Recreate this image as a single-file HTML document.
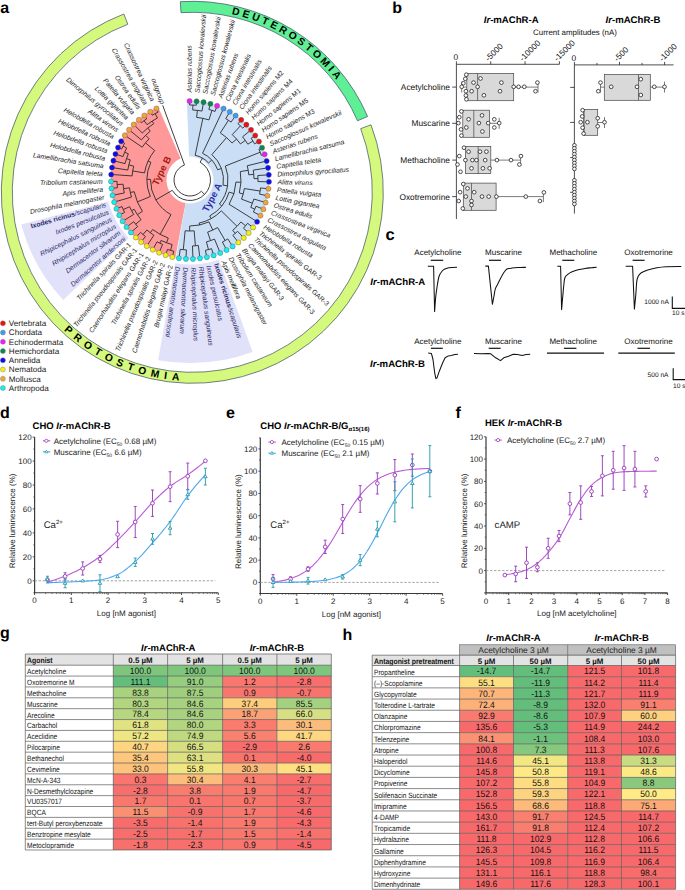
<!DOCTYPE html>
<html><head><meta charset="utf-8"><style>
html,body{margin:0;padding:0;background:#fff;width:685px;height:890px;overflow:hidden}
svg{display:block;font-family:"Liberation Sans",sans-serif;text-rendering:geometricPrecision}
</style></head><body>
<svg width="685" height="890" viewBox="0 0 685 890">
<rect width="685" height="890" fill="#fff"/>
<path d="M370.97 124.79A191 191 0 1 1 123.85 13.99L127.79 24.26A180 180 0 1 0 360.68 128.67Z" fill="#d4f97c" stroke="#3b4b63" stroke-width="0.7"/>
<path d="M180.31 1.68A191 191 0 0 1 367.59 116.44L357.5 120.81A180 180 0 0 0 181 12.66Z" fill="#5ff096" stroke="#3b4b63" stroke-width="0.7"/>
<path id="pp" d="M52.14 318.5A188.6 188.6 0 0 0 198.88 380.79" fill="none"/>
<path id="dp" d="M224.01 12.47A182.6 182.6 0 0 1 340.03 84.97" fill="none"/>
<text font-weight="bold" font-size="10.3" letter-spacing="5.2" fill="#000"><textPath href="#pp" startOffset="16.5">PROTOSTOMIA</textPath></text>
<text font-weight="bold" font-size="10.3" letter-spacing="3.0" fill="#000"><textPath href="#dp" startOffset="7.7">DEUTEROSTOMIA</textPath></text>
<path d="M175.24 258.12A79.5 79.5 0 0 1 158.25 107.12L180.61 158.46A23.5 23.5 0 0 0 185.64 203.09Z" fill="#ff9999"/>
<path d="M186.81 100.56A79.5 79.5 0 1 1 175.74 258.21L185.79 203.12A23.5 23.5 0 1 0 189.06 156.52Z" fill="#cadff6"/>
<path d="M252.65 351.94A183 183 0 0 1 158.13 360.2L175.28 263.21A84.5 84.5 0 0 0 218.93 259.39Z" fill="#e1e1fa"/>
<path d="M63.23 299.92A174.5 174.5 0 0 1 21.26 224.46L108.29 201.53A84.5 84.5 0 0 0 128.61 238.07Z" fill="#e1e1fa"/>
<path d="M189.61 105L189.59 101M196.26 105.26L196.6 101.28M189.61 105A75 75 0 0 1 196.26 105.26M192.74 110.05L192.94 105.06M202.01 111.04L203.56 102.17M192.74 110.05A70 70 0 0 1 202.01 111.04M208.86 109.48L210.41 103.68M215.04 111.43L217.1 105.79M208.86 109.48A73 73 0 0 1 215.04 111.43M196.65 117.35L197.39 110.39M208.96 119.92L211.97 110.38M196.65 117.35A63 63 0 0 1 208.96 119.92M225.76 118.66L229.79 111.75M231.06 122.08L235.68 115.55M225.76 118.66A71 71 0 0 1 231.06 122.08M237.98 123.66L241.22 119.86M242.79 128.14L246.36 124.64M237.98 123.66A74 74 0 0 1 242.79 128.14M251.12 138.29L255.25 135.47M254.58 143.88L258.95 141.44M251.12 138.29A74 74 0 0 1 254.58 143.88M242.55 136.84L251.05 129.86M247.81 144.2L252.92 141.04M242.55 136.84A68 68 0 0 1 247.81 144.2M232.26 134.63L240.43 125.85M240.42 143.92L245.3 140.43M232.26 134.63A62 62 0 0 1 240.42 143.92M220.32 132.92L228.45 120.31M232.07 143.03L236.57 139.07M220.32 132.92A56 56 0 0 1 232.07 143.03M258.9 149.13L262.1 147.7M261.37 155.37L264.68 154.23M258.9 149.13A75.5 75.5 0 0 1 261.37 155.37M257.85 175.53L268.83 174.81M257.98 181.57L268.98 181.82M257.85 175.53A68 68 0 0 1 257.98 181.57M253.24 170.14L268.06 167.83M253.99 178.63L257.98 178.55M253.24 170.14A64 64 0 0 1 253.99 178.63M247.26 165.78L266.67 160.96M248.77 174.81L253.75 174.37M247.26 165.78A59 59 0 0 1 248.77 174.81M260.56 187.93L268.51 188.82M259.57 194.16L267.41 195.75M260.56 187.93A71 71 0 0 1 259.57 194.16M255.98 206.23L263.41 209.18M253.39 211.98L260.53 215.58M255.98 206.23A71 71 0 0 1 253.39 211.98M253.83 199.02L265.71 202.56M250.74 207.33L254.75 209.13M253.83 199.02A66.6 66.6 0 0 1 250.74 207.33M244.33 188.56L260.13 191.05M241.55 199.18L252.42 203.22M244.33 188.56A55 55 0 0 1 241.55 199.18M240.3 171.59L248.19 170.27M239.33 192.93L243.2 193.94M240.3 171.59A51 51 0 0 1 239.33 192.93M235.95 182.08L240.95 182.31M229.07 204.28L257.1 221.7M235.95 182.08A46 46 0 0 1 229.07 204.28M247.54 223.28L253.13 227.49M243.47 228.21L248.67 232.9M247.54 223.28A72 72 0 0 1 243.47 228.21M237.62 231.3L243.75 237.9M232.88 235.33L238.4 242.44M237.62 231.3A70 70 0 0 1 232.88 235.33M240.93 221.98L245.56 225.79M232.71 230.32L235.3 233.37M240.93 221.98A66 66 0 0 1 232.71 230.32M227.81 238.91L232.67 246.49M222.43 242.03L226.6 250.01M227.81 238.91A70 70 0 0 1 222.43 242.03M211.55 248.7L213.65 255.38M205.38 250.34L206.87 257.18M211.55 248.7A72 72 0 0 1 205.38 250.34M214.5 239.12L220.24 252.98M206.43 241.86L208.48 249.59M214.5 239.12A64 64 0 0 1 206.43 241.86M217.62 227.56L225.15 240.53M207.63 232.1L210.51 240.62M217.62 227.56A55 55 0 0 1 207.63 232.1M198.32 245.47L199.96 258.37M192.48 245.95L192.96 258.94M198.32 245.47A66 66 0 0 1 192.48 245.95M186.41 249.91L185.95 258.9M180.22 249.31L178.96 258.23M186.41 249.91A70 70 0 0 1 180.22 249.31M194.17 230.83L195.4 245.78M185.13 230.77L183.31 249.68M194.17 230.83A51 51 0 0 1 185.13 230.77M209.02 221.89L212.74 230.08M189.68 226L189.65 231M209.02 221.89A46 46 0 0 1 189.68 226M221.34 210.89L237.01 226.33M199.16 223.04L199.57 224.99M221.34 210.89A44 44 0 0 1 199.16 223.04M229.16 192.14L233.94 193.62M209.7 215.96L211.14 218.59M229.16 192.14A41 41 0 0 1 209.7 215.96M225.34 166.02L260.21 152.22M219.42 204.05L221.75 205.94M225.34 166.02A38 38 0 0 1 219.42 204.05M211.86 154.62L226.55 137.57M223.1 185.15L227.55 185.84M211.86 154.62A33.5 33.5 0 0 1 223.1 185.15M202.54 153.3L223.57 108.49M217.68 169.81L221.44 168.43M202.54 153.3A29.5 29.5 0 0 1 217.68 169.81M195.15 155.33L202.87 118.33M208.57 162.96L211.74 160.06M195.15 155.33A25.2 25.2 0 0 1 208.57 162.96M173.7 251.16L172.36 257.01M167.48 249.44L165.63 255.15M173.7 251.16A73 73 0 0 1 167.48 249.44M162.6 244.42L159.08 252.7M157.02 241.74L152.78 249.68M162.6 244.42A70 70 0 0 1 157.02 241.74M172.17 244.58L170.57 250.37M161.08 240.44L159.78 243.14M172.17 244.58A67 67 0 0 1 161.08 240.44M145.43 236.54L141.09 242.04M140.6 232.38L135.8 237.48M145.43 236.54A72 72 0 0 1 140.6 232.38M153.88 235.24L146.77 246.12M146.89 229.97L142.97 234.52M153.88 235.24A66 66 0 0 1 146.89 229.97M168.28 238.07L166.53 242.75M152.7 229.53L150.3 232.72M168.28 238.07A62 62 0 0 1 152.7 229.53M137.66 226.48L130.93 232.46M133.76 221.68L126.53 227.04M137.66 226.48A70 70 0 0 1 133.76 221.68M124.61 212.46L119.24 215.13M122 206.55L116.41 208.74M124.61 212.46A73 73 0 0 1 122 206.55M133.71 214.46L122.62 221.24M129.64 206.7L123.24 209.53M133.71 214.46A66 66 0 0 1 129.64 206.7M141.09 219.71L135.66 224.12M134.2 209.25L131.55 210.65M141.09 219.71A63 63 0 0 1 134.2 209.25M117.42 187.78L111.45 188.42M117.01 181.34L111.01 181.45M117.42 187.78A73 73 0 0 1 117.01 181.34M124.27 193L112.5 195.33M123.13 184.19L117.14 184.56M124.27 193A67 67 0 0 1 123.13 184.19M131.44 197.08L114.16 202.12M129.51 187.84L123.56 188.61M131.44 197.08A61 61 0 0 1 129.51 187.84M142.4 211.35L137.39 214.65M134.21 191.68L130.29 192.5M142.4 211.35A57 57 0 0 1 134.21 191.68M121.64 149.14L118 147.49M124.64 143.22L121.15 141.25M121.64 149.14A75 75 0 0 1 124.64 143.22M122.96 156.62L115.41 153.98M126.65 147.95L123.08 146.14M122.96 156.62A71 71 0 0 1 126.65 147.95M125.04 163.61L113.4 160.67M128.34 153.79L124.66 152.22M125.04 163.61A67 67 0 0 1 128.34 153.79M127.79 170.05L111.99 167.52M130.29 159.91L126.5 158.63M127.79 170.05A63 63 0 0 1 130.29 159.91M132.14 175.93L111.19 174.46M133.68 166.12L128.83 164.93M132.14 175.93A58 58 0 0 1 133.68 166.12M141.44 122.84L138.85 119.79M146.68 118.77L144.37 115.51M141.44 122.84A75 75 0 0 1 146.68 118.77M152.26 115.19L150.25 111.73M158.14 112.1L156.44 108.48M152.26 115.19A75 75 0 0 1 158.14 112.1M147.08 124.7L144.02 120.75M157.49 118.01L155.17 113.58M147.08 124.7A70 70 0 0 1 157.49 118.01M142.28 132.97L133.73 124.55M153.76 123.65L152.14 121.12M142.28 132.97A67 67 0 0 1 153.76 123.65M141.39 139.92L129.05 129.74M150.28 131.1L147.76 127.99M141.39 139.92A63 63 0 0 1 150.28 131.1M142.17 147.2L124.85 135.32M149.14 138.84L145.62 135.29M142.17 147.2A58 58 0 0 1 149.14 138.84M144.56 172.86L132.7 171M154.67 150.54L145.46 142.85M144.56 172.86A46 46 0 0 1 154.67 150.54M150.3 196.52L137.38 201.9M150.83 162.25L148.1 161.01M150.3 196.52A43 43 0 0 1 150.83 162.25M171 214.63L160.18 234.36M150.5 179.39L147.01 179.33M171 214.63A39.5 39.5 0 0 1 150.5 179.39M184.51 164.97L162.72 105.33M201.37 191.26A16 16 0 1 1 184.51 164.97M201.37 191.26L204.57 194.43M200.13 162.18A20.5 20.5 0 1 1 172.28 190.31M200.13 162.18L202.46 158.09M172.28 190.31L155.86 199.86" fill="none" stroke="#2a2a2a" stroke-width="0.9"/>
<circle cx="189.59" cy="101" r="2.55" fill="#f01ef0" stroke="#555" stroke-width="0.4"/>
<circle cx="196.6" cy="101.28" r="2.55" fill="#0a8a4a" stroke="#555" stroke-width="0.4"/>
<circle cx="203.56" cy="102.17" r="2.55" fill="#0a8a4a" stroke="#555" stroke-width="0.4"/>
<circle cx="210.41" cy="103.68" r="2.55" fill="#0a8a4a" stroke="#555" stroke-width="0.4"/>
<circle cx="217.1" cy="105.79" r="2.55" fill="#f01ef0" stroke="#555" stroke-width="0.4"/>
<circle cx="223.57" cy="108.49" r="2.55" fill="#3d9ef0" stroke="#555" stroke-width="0.4"/>
<circle cx="229.79" cy="111.75" r="2.55" fill="#3d9ef0" stroke="#555" stroke-width="0.4"/>
<circle cx="235.68" cy="115.55" r="2.55" fill="#3d9ef0" stroke="#555" stroke-width="0.4"/>
<circle cx="241.22" cy="119.86" r="2.55" fill="#ee1111" stroke="#555" stroke-width="0.4"/>
<circle cx="246.36" cy="124.64" r="2.55" fill="#ee1111" stroke="#555" stroke-width="0.4"/>
<circle cx="251.05" cy="129.86" r="2.55" fill="#ee1111" stroke="#555" stroke-width="0.4"/>
<circle cx="255.25" cy="135.47" r="2.55" fill="#ee1111" stroke="#555" stroke-width="0.4"/>
<circle cx="258.95" cy="141.44" r="2.55" fill="#ee1111" stroke="#555" stroke-width="0.4"/>
<circle cx="262.1" cy="147.7" r="2.55" fill="#0a8a4a" stroke="#555" stroke-width="0.4"/>
<circle cx="264.68" cy="154.23" r="2.55" fill="#f01ef0" stroke="#555" stroke-width="0.4"/>
<circle cx="266.67" cy="160.96" r="2.55" fill="#0c0cf0" stroke="#555" stroke-width="0.4"/>
<circle cx="268.06" cy="167.83" r="2.55" fill="#0c0cf0" stroke="#555" stroke-width="0.4"/>
<circle cx="268.83" cy="174.81" r="2.55" fill="#0c0cf0" stroke="#555" stroke-width="0.4"/>
<circle cx="268.98" cy="181.82" r="2.55" fill="#0c0cf0" stroke="#555" stroke-width="0.4"/>
<circle cx="268.51" cy="188.82" r="2.55" fill="#f4a43c" stroke="#555" stroke-width="0.4"/>
<circle cx="267.41" cy="195.75" r="2.55" fill="#f4a43c" stroke="#555" stroke-width="0.4"/>
<circle cx="265.71" cy="202.56" r="2.55" fill="#f4a43c" stroke="#555" stroke-width="0.4"/>
<circle cx="263.41" cy="209.18" r="2.55" fill="#f4a43c" stroke="#555" stroke-width="0.4"/>
<circle cx="260.53" cy="215.58" r="2.55" fill="#f4a43c" stroke="#555" stroke-width="0.4"/>
<circle cx="257.1" cy="221.7" r="2.55" fill="#0c0cf0" stroke="#555" stroke-width="0.4"/>
<circle cx="253.13" cy="227.49" r="2.55" fill="#f4f010" stroke="#555" stroke-width="0.4"/>
<circle cx="248.67" cy="232.9" r="2.55" fill="#f4f010" stroke="#555" stroke-width="0.4"/>
<circle cx="243.75" cy="237.9" r="2.55" fill="#f4f010" stroke="#555" stroke-width="0.4"/>
<circle cx="238.4" cy="242.44" r="2.55" fill="#f4f010" stroke="#555" stroke-width="0.4"/>
<circle cx="232.67" cy="246.49" r="2.55" fill="#16eef0" stroke="#555" stroke-width="0.4"/>
<circle cx="226.6" cy="250.01" r="2.55" fill="#16eef0" stroke="#555" stroke-width="0.4"/>
<circle cx="220.24" cy="252.98" r="2.55" fill="#16eef0" stroke="#555" stroke-width="0.4"/>
<circle cx="213.65" cy="255.38" r="2.55" fill="#16eef0" stroke="#555" stroke-width="0.4"/>
<circle cx="206.87" cy="257.18" r="2.55" fill="#16eef0" stroke="#555" stroke-width="0.4"/>
<circle cx="199.96" cy="258.37" r="2.55" fill="#16eef0" stroke="#555" stroke-width="0.4"/>
<circle cx="192.96" cy="258.94" r="2.55" fill="#16eef0" stroke="#555" stroke-width="0.4"/>
<circle cx="185.95" cy="258.9" r="2.55" fill="#16eef0" stroke="#555" stroke-width="0.4"/>
<circle cx="178.96" cy="258.23" r="2.55" fill="#16eef0" stroke="#555" stroke-width="0.4"/>
<circle cx="172.36" cy="257.01" r="2.55" fill="#f4f010" stroke="#555" stroke-width="0.4"/>
<circle cx="165.63" cy="255.15" r="2.55" fill="#f4f010" stroke="#555" stroke-width="0.4"/>
<circle cx="159.08" cy="252.7" r="2.55" fill="#f4f010" stroke="#555" stroke-width="0.4"/>
<circle cx="152.78" cy="249.68" r="2.55" fill="#f4f010" stroke="#555" stroke-width="0.4"/>
<circle cx="146.77" cy="246.12" r="2.55" fill="#f4f010" stroke="#555" stroke-width="0.4"/>
<circle cx="141.09" cy="242.04" r="2.55" fill="#f4f010" stroke="#555" stroke-width="0.4"/>
<circle cx="135.8" cy="237.48" r="2.55" fill="#f4f010" stroke="#555" stroke-width="0.4"/>
<circle cx="130.93" cy="232.46" r="2.55" fill="#16eef0" stroke="#555" stroke-width="0.4"/>
<circle cx="126.53" cy="227.04" r="2.55" fill="#16eef0" stroke="#555" stroke-width="0.4"/>
<circle cx="122.62" cy="221.24" r="2.55" fill="#16eef0" stroke="#555" stroke-width="0.4"/>
<circle cx="119.24" cy="215.13" r="2.55" fill="#16eef0" stroke="#555" stroke-width="0.4"/>
<circle cx="116.41" cy="208.74" r="2.55" fill="#16eef0" stroke="#555" stroke-width="0.4"/>
<circle cx="114.16" cy="202.12" r="2.55" fill="#16eef0" stroke="#555" stroke-width="0.4"/>
<circle cx="112.5" cy="195.33" r="2.55" fill="#16eef0" stroke="#555" stroke-width="0.4"/>
<circle cx="111.45" cy="188.42" r="2.55" fill="#16eef0" stroke="#555" stroke-width="0.4"/>
<circle cx="111.01" cy="181.45" r="2.55" fill="#16eef0" stroke="#555" stroke-width="0.4"/>
<circle cx="111.19" cy="174.46" r="2.55" fill="#0c0cf0" stroke="#555" stroke-width="0.4"/>
<circle cx="111.99" cy="167.52" r="2.55" fill="#0c0cf0" stroke="#555" stroke-width="0.4"/>
<circle cx="113.4" cy="160.67" r="2.55" fill="#0c0cf0" stroke="#555" stroke-width="0.4"/>
<circle cx="115.41" cy="153.98" r="2.55" fill="#0c0cf0" stroke="#555" stroke-width="0.4"/>
<circle cx="118" cy="147.49" r="2.55" fill="#0c0cf0" stroke="#555" stroke-width="0.4"/>
<circle cx="121.15" cy="141.25" r="2.55" fill="#0c0cf0" stroke="#555" stroke-width="0.4"/>
<circle cx="124.85" cy="135.32" r="2.55" fill="#f4a43c" stroke="#555" stroke-width="0.4"/>
<circle cx="129.05" cy="129.74" r="2.55" fill="#f4a43c" stroke="#555" stroke-width="0.4"/>
<circle cx="133.73" cy="124.55" r="2.55" fill="#f4a43c" stroke="#555" stroke-width="0.4"/>
<circle cx="138.85" cy="119.79" r="2.55" fill="#f4a43c" stroke="#555" stroke-width="0.4"/>
<circle cx="144.37" cy="115.51" r="2.55" fill="#f4a43c" stroke="#555" stroke-width="0.4"/>
<circle cx="150.25" cy="111.73" r="2.55" fill="#f4a43c" stroke="#555" stroke-width="0.4"/>
<circle cx="156.44" cy="108.48" r="2.55" fill="#f4a43c" stroke="#555" stroke-width="0.4"/>
<g font-size="6.8" font-style="italic">
<text transform="translate(189.54 92.5) rotate(-90.3)" text-anchor="start" dy="2.3" fill="#1c1c1c">Asterias rubens</text>
<text transform="translate(197.31 92.81) rotate(-85.21)" text-anchor="start" dy="2.3" fill="#1c1c1c">Saccoglossus kowalevskii</text>
<text transform="translate(205.01 93.8) rotate(-80.12)" text-anchor="start" dy="2.3" fill="#1c1c1c">Saccoglossus kowalevskii</text>
<text transform="translate(212.6 95.47) rotate(-75.03)" text-anchor="start" dy="2.3" fill="#1c1c1c">Saccoglossus kowalevskii</text>
<text transform="translate(220.01 97.81) rotate(-69.94)" text-anchor="start" dy="2.3" fill="#1c1c1c">Asterias rubens</text>
<text transform="translate(227.19 100.8) rotate(-64.85)" text-anchor="start" dy="2.3" fill="#1c1c1c">Ciona intestinalis</text>
<text transform="translate(234.07 104.41) rotate(-59.76)" text-anchor="start" dy="2.3" fill="#1c1c1c">Ciona intestinalis</text>
<text transform="translate(240.6 108.61) rotate(-54.67)" text-anchor="start" dy="2.3" fill="#1c1c1c">Ciona intestinalis</text>
<text transform="translate(246.73 113.39) rotate(-49.58)" text-anchor="start" dy="2.3" fill="#1c1c1c">Homo sapiens <tspan font-style="normal">M2</tspan></text>
<text transform="translate(252.42 118.68) rotate(-44.49)" text-anchor="start" dy="2.3" fill="#1c1c1c">Homo sapiens <tspan font-style="normal">M4</tspan></text>
<text transform="translate(257.61 124.46) rotate(-39.4)" text-anchor="start" dy="2.3" fill="#1c1c1c">Homo sapiens <tspan font-style="normal">M1</tspan></text>
<text transform="translate(262.27 130.68) rotate(-34.31)" text-anchor="start" dy="2.3" fill="#1c1c1c">Homo sapiens <tspan font-style="normal">M5</tspan></text>
<text transform="translate(266.37 137.29) rotate(-29.22)" text-anchor="start" dy="2.3" fill="#1c1c1c">Homo sapiens <tspan font-style="normal">M3</tspan></text>
<text transform="translate(269.85 144.23) rotate(-24.13)" text-anchor="start" dy="2.3" fill="#1c1c1c">Saccoglossus kowalevskii</text>
<text transform="translate(272.71 151.46) rotate(-19.04)" text-anchor="start" dy="2.3" fill="#1c1c1c">Asterias rubens</text>
<text transform="translate(274.92 158.91) rotate(-13.95)" text-anchor="start" dy="2.3" fill="#1c1c1c">Lamellibrachia satsuma</text>
<text transform="translate(276.46 166.52) rotate(-8.86)" text-anchor="start" dy="2.3" fill="#1c1c1c">Capitella teleta</text>
<text transform="translate(277.31 174.25) rotate(-3.77)" text-anchor="start" dy="2.3" fill="#1c1c1c">Dimorphilus gyrociliatus</text>
<text transform="translate(277.48 182.02) rotate(1.32)" text-anchor="start" dy="2.3" fill="#1c1c1c">Alitta virens</text>
<text transform="translate(276.95 189.77) rotate(6.41)" text-anchor="start" dy="2.3" fill="#1c1c1c">Patella vulgata</text>
<text transform="translate(275.74 197.44) rotate(11.5)" text-anchor="start" dy="2.3" fill="#1c1c1c">Lottia gigantea</text>
<text transform="translate(273.86 204.98) rotate(16.59)" text-anchor="start" dy="2.3" fill="#1c1c1c">Ostrea edulis</text>
<text transform="translate(271.31 212.32) rotate(21.68)" text-anchor="start" dy="2.3" fill="#1c1c1c">Crassostrea virginica</text>
<text transform="translate(268.12 219.41) rotate(26.77)" text-anchor="start" dy="2.3" fill="#1c1c1c">Crassostrea angulata</text>
<text transform="translate(264.32 226.19) rotate(31.86)" text-anchor="start" dy="2.3" fill="#1c1c1c">Helobdella robusta</text>
<text transform="translate(259.93 232.6) rotate(36.95)" text-anchor="start" dy="2.3" fill="#1c1c1c">Trichinella spiralis <tspan font-style="normal">GAR-3</tspan></text>
<text transform="translate(254.98 238.59) rotate(42.04)" text-anchor="start" dy="2.3" fill="#1c1c1c">Trichinella pseudospiralis <tspan font-style="normal">GAR-3</tspan></text>
<text transform="translate(249.53 244.13) rotate(47.13)" text-anchor="start" dy="2.3" fill="#1c1c1c">Caenorhabditis elegans <tspan font-style="normal">GAR-3</tspan></text>
<text transform="translate(243.61 249.16) rotate(52.22)" text-anchor="start" dy="2.3" fill="#1c1c1c">Brugia malayi <tspan font-style="normal">GAR-3</tspan></text>
<text transform="translate(237.26 253.64) rotate(57.31)" text-anchor="start" dy="2.3" fill="#1c1c1c">Tribolium castaneum</text>
<text transform="translate(230.54 257.54) rotate(62.4)" text-anchor="start" dy="2.3" fill="#1c1c1c">Drosophila melanogaster</text>
<text transform="translate(223.5 260.83) rotate(67.49)" text-anchor="start" dy="2.3" fill="#1c1c1c">Apis mellifera</text>
<text transform="translate(216.2 263.49) rotate(72.58)" text-anchor="start" dy="2.3" fill="#2a2a64"><tspan font-weight="bold" font-style="normal">Ixodes ricinus</tspan>/scapularis</text>
<text transform="translate(208.68 265.48) rotate(77.67)" text-anchor="start" dy="2.3" fill="#2a2a64">Ixodes persulcatus</text>
<text transform="translate(201.03 266.8) rotate(82.76)" text-anchor="start" dy="2.3" fill="#2a2a64">Rhipicephalus sanguineus</text>
<text transform="translate(193.28 267.44) rotate(87.85)" text-anchor="start" dy="2.3" fill="#2a2a64">Rhipicephalus microplus</text>
<text transform="translate(185.51 267.38) rotate(92.94)" text-anchor="start" dy="2.3" fill="#2a2a64">Dermacentor silvarum</text>
<text transform="translate(177.78 266.64) rotate(98.03)" text-anchor="start" dy="2.3" fill="#2a2a64">Dermacentor andersoni</text>
<text transform="translate(170.47 265.29) rotate(-77.1)" text-anchor="end" dy="2.3" fill="#1c1c1c">Brugia malayi <tspan font-style="normal">GAR-2</tspan></text>
<text transform="translate(163 263.23) rotate(-72.03)" text-anchor="end" dy="2.3" fill="#1c1c1c">Caenorhabditis elegans <tspan font-style="normal">GAR-2</tspan></text>
<text transform="translate(155.75 260.52) rotate(-66.96)" text-anchor="end" dy="2.3" fill="#1c1c1c">Trichinella pseudospiralis <tspan font-style="normal">GAR-2</tspan></text>
<text transform="translate(148.77 257.18) rotate(-61.89)" text-anchor="end" dy="2.3" fill="#1c1c1c">Trichinella spiralis <tspan font-style="normal">GAR-2</tspan></text>
<text transform="translate(142.11 253.23) rotate(-56.82)" text-anchor="end" dy="2.3" fill="#1c1c1c">Caenorhabditis elegans <tspan font-style="normal">GAR-1</tspan></text>
<text transform="translate(135.83 248.72) rotate(-51.75)" text-anchor="end" dy="2.3" fill="#1c1c1c">Trichinella pseudospiralis <tspan font-style="normal">GAR-1</tspan></text>
<text transform="translate(129.97 243.66) rotate(-46.68)" text-anchor="end" dy="2.3" fill="#1c1c1c">Trichinella spiralis <tspan font-style="normal">GAR-1</tspan></text>
<text transform="translate(124.58 238.1) rotate(-41.61)" text-anchor="end" dy="2.3" fill="#2a2a64">Dermacentor andersoni</text>
<text transform="translate(119.7 232.1) rotate(-36.54)" text-anchor="end" dy="2.3" fill="#2a2a64">Dermacentor silvarum</text>
<text transform="translate(115.37 225.68) rotate(-31.47)" text-anchor="end" dy="2.3" fill="#2a2a64">Rhipicephalus microplus</text>
<text transform="translate(111.63 218.91) rotate(-26.4)" text-anchor="end" dy="2.3" fill="#2a2a64">Rhipicephalus sanguineus</text>
<text transform="translate(108.49 211.83) rotate(-21.33)" text-anchor="end" dy="2.3" fill="#2a2a64">Ixodes persulcatus</text>
<text transform="translate(106 204.5) rotate(-16.26)" text-anchor="end" dy="2.3" fill="#2a2a64"><tspan font-weight="bold" font-style="normal">Ixodes ricinus</tspan>/scapularis</text>
<text transform="translate(104.16 196.98) rotate(-11.19)" text-anchor="end" dy="2.3" fill="#1c1c1c">Drosophila melanogaster</text>
<text transform="translate(103 189.33) rotate(-6.12)" text-anchor="end" dy="2.3" fill="#1c1c1c">Apis mellifera</text>
<text transform="translate(102.51 181.6) rotate(-1.05)" text-anchor="end" dy="2.3" fill="#1c1c1c">Tribolium castaneum</text>
<text transform="translate(102.72 173.87) rotate(4.02)" text-anchor="end" dy="2.3" fill="#1c1c1c">Capitella teleta</text>
<text transform="translate(103.6 166.18) rotate(9.09)" text-anchor="end" dy="2.3" fill="#1c1c1c">Lamellibrachia satsuma</text>
<text transform="translate(105.16 158.59) rotate(14.16)" text-anchor="end" dy="2.3" fill="#1c1c1c">Helobdella robusta</text>
<text transform="translate(107.38 151.18) rotate(19.23)" text-anchor="end" dy="2.3" fill="#1c1c1c">Helobdella robusta</text>
<text transform="translate(110.25 143.99) rotate(24.3)" text-anchor="end" dy="2.3" fill="#1c1c1c">Helobdella robusta</text>
<text transform="translate(113.75 137.09) rotate(29.37)" text-anchor="end" dy="2.3" fill="#1c1c1c">Helobdella robusta</text>
<text transform="translate(117.84 130.51) rotate(34.44)" text-anchor="end" dy="2.3" fill="#1c1c1c">Alitta virens</text>
<text transform="translate(122.49 124.33) rotate(39.51)" text-anchor="end" dy="2.3" fill="#1c1c1c">Dimorphilus gyrociliatus</text>
<text transform="translate(127.68 118.58) rotate(44.58)" text-anchor="end" dy="2.3" fill="#1c1c1c">Lottia gigantea</text>
<text transform="translate(133.35 113.32) rotate(49.65)" text-anchor="end" dy="2.3" fill="#1c1c1c">Patella vulgata</text>
<text transform="translate(139.46 108.57) rotate(54.72)" text-anchor="end" dy="2.3" fill="#1c1c1c">Ostrea edulis</text>
<text transform="translate(145.97 104.38) rotate(59.79)" text-anchor="end" dy="2.3" fill="#1c1c1c">Crassostrea angulata</text>
<text transform="translate(152.83 100.79) rotate(64.86)" text-anchor="end" dy="2.3" fill="#1c1c1c">Crassostrea virginica</text>
<text transform="translate(162.6 103.77) rotate(70.23)" text-anchor="end" dy="2.3" fill="#262626">outgroup</text>
</g>
<text transform="translate(212 197.5) rotate(-62)" text-anchor="middle" dy="3.4" font-size="9.6" font-weight="bold" fill="#2e2eaa">Type A</text>
<text transform="translate(161.5 170.8) rotate(-64)" text-anchor="middle" dy="3.4" font-size="9.6" font-weight="bold" fill="#a51a10">Type B</text>
<circle cx="2.9" cy="323.3" r="2.5" fill="#ee1111" stroke="#777" stroke-width="0.4"/>
<text x="8.8" y="326.2" font-size="8.1" fill="#222">Vertebrata</text>
<circle cx="2.9" cy="332.55" r="2.5" fill="#3d9ef0" stroke="#777" stroke-width="0.4"/>
<text x="8.8" y="335.45" font-size="8.1" fill="#222">Chordata</text>
<circle cx="2.9" cy="341.8" r="2.5" fill="#f01ef0" stroke="#777" stroke-width="0.4"/>
<text x="8.8" y="344.7" font-size="8.1" fill="#222">Echinodermata</text>
<circle cx="2.9" cy="351.05" r="2.5" fill="#0a8a4a" stroke="#777" stroke-width="0.4"/>
<text x="8.8" y="353.95" font-size="8.1" fill="#222">Hemichordata</text>
<circle cx="2.9" cy="360.3" r="2.5" fill="#0c0cf0" stroke="#777" stroke-width="0.4"/>
<text x="8.8" y="363.2" font-size="8.1" fill="#222">Annelida</text>
<circle cx="2.9" cy="369.55" r="2.5" fill="#f4f010" stroke="#777" stroke-width="0.4"/>
<text x="8.8" y="372.45" font-size="8.1" fill="#222">Nematoda</text>
<circle cx="2.9" cy="378.8" r="2.5" fill="#f4a43c" stroke="#777" stroke-width="0.4"/>
<text x="8.8" y="381.7" font-size="8.1" fill="#222">Mollusca</text>
<circle cx="2.9" cy="388.05" r="2.5" fill="#16eef0" stroke="#777" stroke-width="0.4"/>
<text x="8.8" y="390.95" font-size="8.1" fill="#222">Arthropoda</text>
<text x="0.2" y="12.8" font-size="16" font-weight="bold">a</text>
<text x="392.3" y="13" font-size="16" font-weight="bold">b</text>
<text x="511.2" y="23" font-size="9.6" font-weight="bold" text-anchor="middle"><tspan font-style="italic">Ir</tspan>-mAChR-A</text>
<text x="633" y="23" font-size="9.6" font-weight="bold" text-anchor="middle"><tspan font-style="italic">Ir</tspan>-mAChR-B</text>
<text x="575" y="35.3" font-size="7.9" text-anchor="middle" fill="#111">Current amplitudes (nA)</text>
<path d="M456.4 64.3V219M456.4 64.3H559.4" stroke="#222" stroke-width="0.8" fill="none"/>
<path d="M456.4 64.3v-3" stroke="#222" stroke-width="0.8"/>
<path d="M490.73 64.3v-3" stroke="#222" stroke-width="0.8"/>
<path d="M525.06 64.3v-3" stroke="#222" stroke-width="0.8"/>
<path d="M559.39 64.3v-3" stroke="#222" stroke-width="0.8"/>
<text x="455.8" y="59.6" font-size="8.3" text-anchor="middle" fill="#111">0</text>
<text transform="translate(488.53 61.7) rotate(-45)" font-size="8.3" fill="#111">-5000</text>
<text transform="translate(522.86 61.7) rotate(-45)" font-size="8.3" fill="#111">-10000</text>
<text transform="translate(557.19 61.7) rotate(-45)" font-size="8.3" fill="#111">-15000</text>
<path d="M456.4 87.1h-4.2" stroke="#222" stroke-width="0.8"/>
<text x="450" y="90.1" font-size="8.35" text-anchor="end" fill="#111">Acetylcholine</text>
<path d="M456.4 123.3h-4.2" stroke="#222" stroke-width="0.8"/>
<text x="450" y="126.3" font-size="8.35" text-anchor="end" fill="#111">Muscarine</text>
<path d="M456.4 160.1h-4.2" stroke="#222" stroke-width="0.8"/>
<text x="450" y="163.1" font-size="8.35" text-anchor="end" fill="#111">Methacholine</text>
<path d="M456.4 196.6h-4.2" stroke="#222" stroke-width="0.8"/>
<text x="450" y="199.6" font-size="8.35" text-anchor="end" fill="#111">Oxotremorine</text>
<path d="M574.4 64.9V213.6M574.4 64.9H673.6" stroke="#222" stroke-width="0.8" fill="none"/>
<path d="M574.4 64.9v-3" stroke="#222" stroke-width="0.8"/>
<path d="M596.95 64.9v-2" stroke="#222" stroke-width="0.8"/>
<path d="M619.5 64.9v-3" stroke="#222" stroke-width="0.8"/>
<path d="M642.05 64.9v-2" stroke="#222" stroke-width="0.8"/>
<path d="M664.6 64.9v-3" stroke="#222" stroke-width="0.8"/>
<text x="573.8" y="61" font-size="8.3" text-anchor="middle" fill="#111">0</text>
<text transform="translate(617.3 62) rotate(-45)" font-size="8.3" fill="#111">-500</text>
<text transform="translate(662.4 62) rotate(-45)" font-size="8.3" fill="#111">-1000</text>
<path d="M574.4 87.4h-4.2" stroke="#222" stroke-width="0.8"/>
<path d="M574.4 122.4h-4.2" stroke="#222" stroke-width="0.8"/>
<path d="M574.4 157.6h-4.2" stroke="#222" stroke-width="0.8"/>
<path d="M574.4 192.3h-4.2" stroke="#222" stroke-width="0.8"/>
<path d="M466.8 87.1H461.7M461.7 81.6v11" stroke="#444" stroke-width="0.7" fill="none"/><path d="M513.7 87.1H538M538 81.6v11" stroke="#444" stroke-width="0.7" fill="none"/><rect x="466.8" y="73.5" width="46.9" height="27.2" fill="#d9d9d9" stroke="#444" stroke-width="0.7"/><path d="M477.6 73.5V100.7" stroke="#444" stroke-width="0.7"/>
<circle cx="466.3" cy="74.7" r="1.85" fill="#fff" stroke="#222" stroke-width="0.8"/><circle cx="465.3" cy="78.8" r="1.85" fill="#fff" stroke="#222" stroke-width="0.8"/><circle cx="463.4" cy="83.2" r="1.85" fill="#fff" stroke="#222" stroke-width="0.8"/><circle cx="461.7" cy="86.8" r="1.85" fill="#fff" stroke="#222" stroke-width="0.8"/><circle cx="465.9" cy="91.2" r="1.85" fill="#fff" stroke="#222" stroke-width="0.8"/><circle cx="465.9" cy="95.5" r="1.85" fill="#fff" stroke="#222" stroke-width="0.8"/><circle cx="466.4" cy="99.3" r="1.85" fill="#fff" stroke="#222" stroke-width="0.8"/><circle cx="473.5" cy="82.6" r="1.85" fill="#fff" stroke="#222" stroke-width="0.8"/><circle cx="471.6" cy="91.2" r="1.85" fill="#fff" stroke="#222" stroke-width="0.8"/><circle cx="477.6" cy="86.8" r="1.85" fill="#fff" stroke="#222" stroke-width="0.8"/><circle cx="480.5" cy="78.5" r="1.85" fill="#fff" stroke="#222" stroke-width="0.8"/><circle cx="483.9" cy="95.3" r="1.85" fill="#fff" stroke="#222" stroke-width="0.8"/><circle cx="501.4" cy="82.6" r="1.85" fill="#fff" stroke="#222" stroke-width="0.8"/><circle cx="500" cy="91.2" r="1.85" fill="#fff" stroke="#222" stroke-width="0.8"/><circle cx="513.7" cy="86.8" r="1.85" fill="#fff" stroke="#222" stroke-width="0.8"/><circle cx="518.6" cy="86.8" r="1.85" fill="#fff" stroke="#222" stroke-width="0.8"/><circle cx="524.3" cy="86.8" r="1.85" fill="#fff" stroke="#222" stroke-width="0.8"/><circle cx="537.4" cy="82.6" r="1.85" fill="#fff" stroke="#222" stroke-width="0.8"/><circle cx="535.5" cy="91.2" r="1.85" fill="#fff" stroke="#222" stroke-width="0.8"/>
<path d="M489.6 123.3H499.2M499.2 117.8v11" stroke="#444" stroke-width="0.7" fill="none"/><rect x="462.8" y="110.2" width="26.8" height="27.1" fill="#d9d9d9" stroke="#444" stroke-width="0.7"/><path d="M473.8 110.2V137.3" stroke="#444" stroke-width="0.7"/>
<circle cx="461.4" cy="111.4" r="1.85" fill="#fff" stroke="#222" stroke-width="0.8"/><circle cx="459.3" cy="117.2" r="1.85" fill="#fff" stroke="#222" stroke-width="0.8"/><circle cx="458.4" cy="123.1" r="1.85" fill="#fff" stroke="#222" stroke-width="0.8"/><circle cx="461" cy="129.4" r="1.85" fill="#fff" stroke="#222" stroke-width="0.8"/><circle cx="461.4" cy="135.6" r="1.85" fill="#fff" stroke="#222" stroke-width="0.8"/><circle cx="468.6" cy="119.3" r="1.85" fill="#fff" stroke="#222" stroke-width="0.8"/><circle cx="466.3" cy="127.5" r="1.85" fill="#fff" stroke="#222" stroke-width="0.8"/><circle cx="482" cy="115.4" r="1.85" fill="#fff" stroke="#222" stroke-width="0.8"/><circle cx="478.9" cy="123.1" r="1.85" fill="#fff" stroke="#222" stroke-width="0.8"/><circle cx="482.4" cy="131.5" r="1.85" fill="#fff" stroke="#222" stroke-width="0.8"/><circle cx="488.2" cy="123.1" r="1.85" fill="#fff" stroke="#222" stroke-width="0.8"/><circle cx="494.3" cy="119.3" r="1.85" fill="#fff" stroke="#222" stroke-width="0.8"/><circle cx="494.3" cy="127.5" r="1.85" fill="#fff" stroke="#222" stroke-width="0.8"/><circle cx="499.2" cy="123.1" r="1.85" fill="#fff" stroke="#222" stroke-width="0.8"/>
<path d="M490.8 160.1H520.6M520.6 154.6v11" stroke="#444" stroke-width="0.7" fill="none"/><rect x="465.4" y="146.4" width="25.4" height="27.2" fill="#d9d9d9" stroke="#444" stroke-width="0.7"/><path d="M478.2 146.4V173.6" stroke="#444" stroke-width="0.7"/>
<circle cx="464" cy="147.7" r="1.85" fill="#fff" stroke="#222" stroke-width="0.8"/><circle cx="468.6" cy="151.7" r="1.85" fill="#fff" stroke="#222" stroke-width="0.8"/><circle cx="459.3" cy="156.1" r="1.85" fill="#fff" stroke="#222" stroke-width="0.8"/><circle cx="465.4" cy="160.1" r="1.85" fill="#fff" stroke="#222" stroke-width="0.8"/><circle cx="457.5" cy="164.5" r="1.85" fill="#fff" stroke="#222" stroke-width="0.8"/><circle cx="460.5" cy="171.8" r="1.85" fill="#fff" stroke="#222" stroke-width="0.8"/><circle cx="471.5" cy="168.3" r="1.85" fill="#fff" stroke="#222" stroke-width="0.8"/><circle cx="472.4" cy="160.1" r="1.85" fill="#fff" stroke="#222" stroke-width="0.8"/><circle cx="476.4" cy="160.1" r="1.85" fill="#fff" stroke="#222" stroke-width="0.8"/><circle cx="480" cy="151.7" r="1.85" fill="#fff" stroke="#222" stroke-width="0.8"/><circle cx="486.4" cy="151.7" r="1.85" fill="#fff" stroke="#222" stroke-width="0.8"/><circle cx="485.2" cy="160.1" r="1.85" fill="#fff" stroke="#222" stroke-width="0.8"/><circle cx="482.9" cy="168.3" r="1.85" fill="#fff" stroke="#222" stroke-width="0.8"/><circle cx="489.6" cy="168.3" r="1.85" fill="#fff" stroke="#222" stroke-width="0.8"/><circle cx="496.9" cy="160.1" r="1.85" fill="#fff" stroke="#222" stroke-width="0.8"/><circle cx="511" cy="160.1" r="1.85" fill="#fff" stroke="#222" stroke-width="0.8"/><circle cx="520.9" cy="156.1" r="1.85" fill="#fff" stroke="#222" stroke-width="0.8"/><circle cx="519.4" cy="164.5" r="1.85" fill="#fff" stroke="#222" stroke-width="0.8"/>
<path d="M496.1 196.6H543.4M543.4 191.1v11" stroke="#444" stroke-width="0.7" fill="none"/><rect x="463.3" y="183.1" width="32.8" height="27.2" fill="#d9d9d9" stroke="#444" stroke-width="0.7"/><path d="M471.5 183.1V210.3" stroke="#444" stroke-width="0.7"/>
<circle cx="463.3" cy="184" r="1.85" fill="#fff" stroke="#222" stroke-width="0.8"/><circle cx="467.5" cy="188.4" r="1.85" fill="#fff" stroke="#222" stroke-width="0.8"/><circle cx="460.1" cy="192.2" r="1.85" fill="#fff" stroke="#222" stroke-width="0.8"/><circle cx="474.2" cy="192.2" r="1.85" fill="#fff" stroke="#222" stroke-width="0.8"/><circle cx="465.8" cy="196.6" r="1.85" fill="#fff" stroke="#222" stroke-width="0.8"/><circle cx="458.7" cy="201" r="1.85" fill="#fff" stroke="#222" stroke-width="0.8"/><circle cx="471.5" cy="201" r="1.85" fill="#fff" stroke="#222" stroke-width="0.8"/><circle cx="471.5" cy="205" r="1.85" fill="#fff" stroke="#222" stroke-width="0.8"/><circle cx="462.8" cy="208.5" r="1.85" fill="#fff" stroke="#222" stroke-width="0.8"/><circle cx="482" cy="196.6" r="1.85" fill="#fff" stroke="#222" stroke-width="0.8"/><circle cx="488.7" cy="196.6" r="1.85" fill="#fff" stroke="#222" stroke-width="0.8"/><circle cx="496.4" cy="196.6" r="1.85" fill="#fff" stroke="#222" stroke-width="0.8"/><circle cx="525.8" cy="196.6" r="1.85" fill="#fff" stroke="#222" stroke-width="0.8"/><circle cx="543.9" cy="192.4" r="1.85" fill="#fff" stroke="#222" stroke-width="0.8"/><circle cx="539.9" cy="201" r="1.85" fill="#fff" stroke="#222" stroke-width="0.8"/>
<path d="M604.3 87.1H600.5M600.5 81.6v11" stroke="#444" stroke-width="0.7" fill="none"/><path d="M650.3 87.1H664.5M664.5 81.6v11" stroke="#444" stroke-width="0.7" fill="none"/><rect x="604.3" y="74.5" width="46" height="25.8" fill="#d9d9d9" stroke="#444" stroke-width="0.7"/><path d="M638.5 74.5V100.3" stroke="#444" stroke-width="0.7"/>
<circle cx="600.5" cy="82.6" r="1.85" fill="#fff" stroke="#222" stroke-width="0.8"/><circle cx="598.3" cy="91.2" r="1.85" fill="#fff" stroke="#222" stroke-width="0.8"/><circle cx="611.2" cy="86.8" r="1.85" fill="#fff" stroke="#222" stroke-width="0.8"/><circle cx="637" cy="86.8" r="1.85" fill="#fff" stroke="#222" stroke-width="0.8"/><circle cx="640.8" cy="79.2" r="1.85" fill="#fff" stroke="#222" stroke-width="0.8"/><circle cx="640.8" cy="95" r="1.85" fill="#fff" stroke="#222" stroke-width="0.8"/><circle cx="654.3" cy="86.8" r="1.85" fill="#fff" stroke="#222" stroke-width="0.8"/><circle cx="664.5" cy="86.8" r="1.85" fill="#fff" stroke="#222" stroke-width="0.8"/>
<path d="M597.7 122.5H604.5M604.5 117v11" stroke="#444" stroke-width="0.7" fill="none"/><rect x="584.1" y="109.5" width="13.6" height="25.8" fill="#d9d9d9" stroke="#444" stroke-width="0.7"/><path d="M583.5 109.5V135.3" stroke="#444" stroke-width="0.7"/>
<circle cx="582.6" cy="110.2" r="1.85" fill="#fff" stroke="#222" stroke-width="0.8"/><circle cx="582.2" cy="116.4" r="1.85" fill="#fff" stroke="#222" stroke-width="0.8"/><circle cx="580.7" cy="122.2" r="1.85" fill="#fff" stroke="#222" stroke-width="0.8"/><circle cx="587.4" cy="122.2" r="1.85" fill="#fff" stroke="#222" stroke-width="0.8"/><circle cx="582.6" cy="127.7" r="1.85" fill="#fff" stroke="#222" stroke-width="0.8"/><circle cx="583.6" cy="133.6" r="1.85" fill="#fff" stroke="#222" stroke-width="0.8"/><circle cx="597.7" cy="118.2" r="1.85" fill="#fff" stroke="#222" stroke-width="0.8"/><circle cx="597.7" cy="126.3" r="1.85" fill="#fff" stroke="#222" stroke-width="0.8"/><circle cx="604.5" cy="122.2" r="1.85" fill="#fff" stroke="#222" stroke-width="0.8"/>
<circle cx="574.4" cy="145.3" r="1.85" fill="#fff" stroke="#222" stroke-width="0.8"/><circle cx="574.4" cy="148.25" r="1.85" fill="#fff" stroke="#222" stroke-width="0.8"/><circle cx="574.4" cy="151.2" r="1.85" fill="#fff" stroke="#222" stroke-width="0.8"/><circle cx="574.4" cy="154.15" r="1.85" fill="#fff" stroke="#222" stroke-width="0.8"/><circle cx="574.4" cy="157.1" r="1.85" fill="#fff" stroke="#222" stroke-width="0.8"/><circle cx="574.4" cy="160.05" r="1.85" fill="#fff" stroke="#222" stroke-width="0.8"/><circle cx="574.4" cy="163" r="1.85" fill="#fff" stroke="#222" stroke-width="0.8"/><circle cx="574.4" cy="165.95" r="1.85" fill="#fff" stroke="#222" stroke-width="0.8"/><circle cx="574.4" cy="168.9" r="1.85" fill="#fff" stroke="#222" stroke-width="0.8"/>
<circle cx="574.4" cy="180.3" r="1.85" fill="#fff" stroke="#222" stroke-width="0.8"/><circle cx="574.4" cy="183.26" r="1.85" fill="#fff" stroke="#222" stroke-width="0.8"/><circle cx="574.4" cy="186.22" r="1.85" fill="#fff" stroke="#222" stroke-width="0.8"/><circle cx="574.4" cy="189.18" r="1.85" fill="#fff" stroke="#222" stroke-width="0.8"/><circle cx="574.4" cy="192.14" r="1.85" fill="#fff" stroke="#222" stroke-width="0.8"/><circle cx="574.4" cy="195.1" r="1.85" fill="#fff" stroke="#222" stroke-width="0.8"/><circle cx="574.4" cy="198.06" r="1.85" fill="#fff" stroke="#222" stroke-width="0.8"/><circle cx="574.4" cy="201.02" r="1.85" fill="#fff" stroke="#222" stroke-width="0.8"/><circle cx="574.4" cy="203.98" r="1.85" fill="#fff" stroke="#222" stroke-width="0.8"/>
<text x="385.4" y="239.5" font-size="16.5" font-weight="bold">c</text>
<text x="370.3" y="285.4" font-size="9.6" font-weight="bold"><tspan font-style="italic">Ir</tspan>-mAChR-A</text>
<text x="370" y="366.9" font-size="9.6" font-weight="bold"><tspan font-style="italic">Ir</tspan>-mAChR-B</text>
<text x="437.9" y="254.6" font-size="8" text-anchor="middle" fill="#111">Acetylcholine</text>
<text x="437.8" y="343.8" font-size="8" text-anchor="middle" fill="#111">Acetylcholine</text>
<text x="503.5" y="254.6" font-size="8" text-anchor="middle" fill="#111">Muscarine</text>
<text x="503.4" y="343.8" font-size="8" text-anchor="middle" fill="#111">Muscarine</text>
<text x="573.3" y="254.6" font-size="8" text-anchor="middle" fill="#111">Methacholine</text>
<text x="573.2" y="343.8" font-size="8" text-anchor="middle" fill="#111">Methacholine</text>
<text x="648.6" y="254.6" font-size="8" text-anchor="middle" fill="#111">Oxotremorine</text>
<text x="648.5" y="343.8" font-size="8" text-anchor="middle" fill="#111">Oxotremorine</text>
<path d="M430.8 260.3H443.2" stroke="#111" stroke-width="1.2"/>
<path d="M489 260.3H501" stroke="#111" stroke-width="1.2"/>
<path d="M562.3 260.3H574.3" stroke="#111" stroke-width="1.2"/>
<path d="M632.6 260.3H644.6" stroke="#111" stroke-width="1.2"/>
<path d="M430.9 348.3H442.8" stroke="#111" stroke-width="1.2"/>
<path d="M488.7 348.3H500.6" stroke="#111" stroke-width="1.2"/>
<path d="M563.9 348.3H576.4" stroke="#111" stroke-width="1.2"/>
<path d="M637.5 348.3H650" stroke="#111" stroke-width="1.2"/>
<path d="M427.8 266.3L433.6 266.3L434.6 311.6C434.78 309.18 435.3 301.15 435.7 297.1C436.1 293.05 436.45 290.73 437 287.3C437.55 283.87 438.13 279.22 439 276.5C439.87 273.78 441.12 272.28 442.2 271C443.28 269.72 444.4 269.35 445.5 268.8C446.6 268.25 447.63 267.93 448.8 267.7C449.97 267.47 451.13 267.47 452.5 267.4C453.87 267.33 456.25 267.32 457 267.3M485.3 266.1L488.4 266.1L492.4 304.3C492.67 302.92 493.53 298.48 494 296C494.47 293.52 494.62 291.32 495.2 289.4C495.78 287.48 496.62 286.32 497.5 284.5C498.38 282.68 499.52 280.37 500.5 278.5C501.48 276.63 502.57 274.67 503.4 273.3C504.23 271.93 504.78 271.05 505.5 270.3C506.22 269.55 506.62 269.17 507.7 268.8C508.78 268.43 510.28 268.3 512 268.1C513.72 267.9 515.67 267.73 518 267.6C520.33 267.47 524.67 267.35 526 267.3M557.3 266.2L560.6 266.2L561.6 309.6C561.82 307.13 562.52 299.02 562.9 294.8C563.28 290.58 563.57 287.15 563.9 284.3C564.23 281.45 564.2 279.4 564.9 277.7C565.6 276 566.9 275.08 568.1 274.1C569.3 273.12 570.45 272.52 572.1 271.8C573.75 271.08 575.82 270.37 578 269.8C580.18 269.23 582.9 268.75 585.2 268.4C587.5 268.05 589.88 267.9 591.8 267.7C593.72 267.5 595.88 267.28 596.7 267.2M625.7 266.3L632.6 266.3L634.4 309.1C634.63 306.72 635.42 299.33 635.8 294.8C636.18 290.27 636.32 284.97 636.7 281.9C637.08 278.83 637.33 277.93 638.1 276.4C638.87 274.87 639.68 273.77 641.3 272.7C642.92 271.63 645.18 270.83 647.8 270C650.42 269.17 653.93 268.25 657 267.7C660.07 267.15 662.15 266.9 666.2 266.7C670.25 266.5 678.78 266.53 681.3 266.5M428.2 353 L431.4 353.4 L433 359.5 L434.6 372.3 L435.9 378.7 L437 377.9 L439.5 370.7 L442.7 362.7 L445.1 357.8 L448.3 355.9 L451.5 355.4 L454.7 354.6 L457.9 354.2M474 353.4 L481.2 353.8 L488.4 353.4 L490.8 353.8 L495.7 357.8 L500.5 360.6 L503.7 357.8 L508.5 356.2 L513.3 354.3 L517.3 354.6 L522.2 355.4 L526.2 354.6 L530.2 354.2M547 353.1H604M618.3 353.1H674.8" fill="none" stroke="#111" stroke-width="1.05" stroke-linejoin="round"/>
<path d="M672.3 296.6V308.4H685" fill="none" stroke="#111" stroke-width="1.1"/>
<text x="668.9" y="304" font-size="6.6" text-anchor="end" fill="#111">1000 nA</text>
<text x="672" y="315.2" font-size="6.6" fill="#111">10 s</text>
<path d="M673.2 368.3V379.6H685" fill="none" stroke="#111" stroke-width="1.1"/>
<text x="668.5" y="377.2" font-size="6.6" text-anchor="end" fill="#111">500 nA</text>
<text x="673" y="388" font-size="6.6" fill="#111">10 s</text>
<text x="0.1" y="417.6" font-size="16" font-weight="bold">d</text>
<text x="32.6" y="428.8" font-size="9.5" font-weight="bold">CHO <tspan font-style="italic">Ir</tspan>-mAChR-B</text>
<path d="M34.6 437.1V592.77H218.25" fill="none" stroke="#3a3a3a" stroke-width="1.2"/>
<path d="M34.6 592.77h-1.2" stroke="#333" stroke-width="0.8"/>
<path d="M34.6 580.8h-2" stroke="#333" stroke-width="0.8"/>
<text x="31.6" y="583.7" font-size="8" text-anchor="end" fill="#222">0</text>
<path d="M34.6 568.82h-1.2" stroke="#333" stroke-width="0.8"/>
<path d="M34.6 556.85h-2" stroke="#333" stroke-width="0.8"/>
<text x="31.6" y="559.75" font-size="8" text-anchor="end" fill="#222">20</text>
<path d="M34.6 544.88h-1.2" stroke="#333" stroke-width="0.8"/>
<path d="M34.6 532.9h-2" stroke="#333" stroke-width="0.8"/>
<text x="31.6" y="535.8" font-size="8" text-anchor="end" fill="#222">40</text>
<path d="M34.6 520.92h-1.2" stroke="#333" stroke-width="0.8"/>
<path d="M34.6 508.95h-2" stroke="#333" stroke-width="0.8"/>
<text x="31.6" y="511.85" font-size="8" text-anchor="end" fill="#222">60</text>
<path d="M34.6 496.97h-1.2" stroke="#333" stroke-width="0.8"/>
<path d="M34.6 485h-2" stroke="#333" stroke-width="0.8"/>
<text x="31.6" y="487.9" font-size="8" text-anchor="end" fill="#222">80</text>
<path d="M34.6 473.02h-1.2" stroke="#333" stroke-width="0.8"/>
<path d="M34.6 461.05h-2" stroke="#333" stroke-width="0.8"/>
<text x="31.6" y="463.95" font-size="8" text-anchor="end" fill="#222">100</text>
<path d="M34.6 449.07h-1.2" stroke="#333" stroke-width="0.8"/>
<path d="M34.6 437.1h-2" stroke="#333" stroke-width="0.8"/>
<text x="31.6" y="440" font-size="8" text-anchor="end" fill="#222">120</text>
<path d="M34.6 592.77v2.2" stroke="#333" stroke-width="0.9"/>
<text x="34.6" y="603.38" font-size="8" text-anchor="middle" fill="#222">0</text>
<path d="M45.66 592.77v1.3" stroke="#444" stroke-width="0.7"/>
<path d="M52.12 592.77v1.3" stroke="#444" stroke-width="0.7"/>
<path d="M56.71 592.77v1.3" stroke="#444" stroke-width="0.7"/>
<path d="M60.27 592.77v1.3" stroke="#444" stroke-width="0.7"/>
<path d="M63.18 592.77v1.3" stroke="#444" stroke-width="0.7"/>
<path d="M65.64 592.77v1.3" stroke="#444" stroke-width="0.7"/>
<path d="M67.77 592.77v1.3" stroke="#444" stroke-width="0.7"/>
<path d="M69.65 592.77v1.3" stroke="#444" stroke-width="0.7"/>
<path d="M71.33 592.77v2.2" stroke="#333" stroke-width="0.9"/>
<text x="71.33" y="603.38" font-size="8" text-anchor="middle" fill="#222">1</text>
<path d="M82.39 592.77v1.3" stroke="#444" stroke-width="0.7"/>
<path d="M88.85 592.77v1.3" stroke="#444" stroke-width="0.7"/>
<path d="M93.44 592.77v1.3" stroke="#444" stroke-width="0.7"/>
<path d="M97 592.77v1.3" stroke="#444" stroke-width="0.7"/>
<path d="M99.91 592.77v1.3" stroke="#444" stroke-width="0.7"/>
<path d="M102.37 592.77v1.3" stroke="#444" stroke-width="0.7"/>
<path d="M104.5 592.77v1.3" stroke="#444" stroke-width="0.7"/>
<path d="M106.38 592.77v1.3" stroke="#444" stroke-width="0.7"/>
<path d="M108.06 592.77v2.2" stroke="#333" stroke-width="0.9"/>
<text x="108.06" y="603.38" font-size="8" text-anchor="middle" fill="#222">2</text>
<path d="M119.12 592.77v1.3" stroke="#444" stroke-width="0.7"/>
<path d="M125.58 592.77v1.3" stroke="#444" stroke-width="0.7"/>
<path d="M130.17 592.77v1.3" stroke="#444" stroke-width="0.7"/>
<path d="M133.73 592.77v1.3" stroke="#444" stroke-width="0.7"/>
<path d="M136.64 592.77v1.3" stroke="#444" stroke-width="0.7"/>
<path d="M139.1 592.77v1.3" stroke="#444" stroke-width="0.7"/>
<path d="M141.23 592.77v1.3" stroke="#444" stroke-width="0.7"/>
<path d="M143.11 592.77v1.3" stroke="#444" stroke-width="0.7"/>
<path d="M144.79 592.77v2.2" stroke="#333" stroke-width="0.9"/>
<text x="144.79" y="603.38" font-size="8" text-anchor="middle" fill="#222">3</text>
<path d="M155.85 592.77v1.3" stroke="#444" stroke-width="0.7"/>
<path d="M162.31 592.77v1.3" stroke="#444" stroke-width="0.7"/>
<path d="M166.9 592.77v1.3" stroke="#444" stroke-width="0.7"/>
<path d="M170.46 592.77v1.3" stroke="#444" stroke-width="0.7"/>
<path d="M173.37 592.77v1.3" stroke="#444" stroke-width="0.7"/>
<path d="M175.83 592.77v1.3" stroke="#444" stroke-width="0.7"/>
<path d="M177.96 592.77v1.3" stroke="#444" stroke-width="0.7"/>
<path d="M179.84 592.77v1.3" stroke="#444" stroke-width="0.7"/>
<path d="M181.52 592.77v2.2" stroke="#333" stroke-width="0.9"/>
<text x="181.52" y="603.38" font-size="8" text-anchor="middle" fill="#222">4</text>
<path d="M192.58 592.77v1.3" stroke="#444" stroke-width="0.7"/>
<path d="M199.04 592.77v1.3" stroke="#444" stroke-width="0.7"/>
<path d="M203.63 592.77v1.3" stroke="#444" stroke-width="0.7"/>
<path d="M207.19 592.77v1.3" stroke="#444" stroke-width="0.7"/>
<path d="M210.1 592.77v1.3" stroke="#444" stroke-width="0.7"/>
<path d="M212.56 592.77v1.3" stroke="#444" stroke-width="0.7"/>
<path d="M214.69 592.77v1.3" stroke="#444" stroke-width="0.7"/>
<path d="M216.57 592.77v1.3" stroke="#444" stroke-width="0.7"/>
<path d="M218.25 592.77v2.2" stroke="#333" stroke-width="0.9"/>
<text x="218.25" y="603.38" font-size="8" text-anchor="middle" fill="#222">5</text>
<path d="M34.6 580.8H215.25" stroke="#9a9a9a" stroke-width="0.9" stroke-dasharray="2.4 1.6"/>
<text x="126.42" y="615.98" font-size="8" text-anchor="middle" fill="#222">Log [nM agonist]</text>
<text transform="translate(15.2 520.94) rotate(-90)" font-size="8" text-anchor="middle" fill="#222">Relative luminescence (%)</text>
<path d="M47.46 582.04 L49.43 581.5 L51.4 580.92 L53.38 580.31 L55.35 579.66 L57.33 578.99 L59.3 578.29 L61.28 577.57 L63.25 576.82 L65.22 576.05 L67.2 575.24 L69.17 574.4 L71.15 573.52 L73.12 572.6 L75.09 571.64 L77.07 570.66 L79.04 569.64 L81.02 568.59 L82.99 567.51 L84.97 566.4 L86.94 565.25 L88.91 564.06 L90.89 562.82 L92.86 561.53 L94.84 560.2 L96.81 558.82 L98.79 557.38 L100.76 555.89 L102.73 554.3 L104.71 552.62 L106.68 550.85 L108.66 549.02 L110.63 547.15 L112.61 545.23 L114.58 543.3 L116.55 541.36 L118.53 539.42 L120.5 537.45 L122.48 535.44 L124.45 533.39 L126.43 531.32 L128.4 529.22 L130.37 527.1 L132.35 524.97 L134.32 522.84 L136.3 520.68 L138.27 518.46 L140.24 516.19 L142.22 513.9 L144.19 511.62 L146.17 509.35 L148.14 507.13 L150.12 504.97 L152.09 502.9 L154.06 500.91 L156.04 498.95 L158.01 497.01 L159.99 495.12 L161.96 493.27 L163.94 491.48 L165.91 489.75 L167.88 488.1 L169.86 486.53 L171.83 485.06 L173.81 483.68 L175.78 482.38 L177.76 481.12 L179.73 479.9 L181.7 478.68 L183.68 477.44 L185.65 476.15 L187.63 474.8 L189.6 473.39 L191.57 471.95 L193.55 470.48 L195.52 468.99 L197.5 467.48 L199.47 465.93 L201.45 464.37 L203.42 462.78 L205.39 461.17" fill="none" stroke="#bb5ad8" stroke-width="1.1"/>
<circle cx="47.46" cy="579.6" r="1.85" fill="#fff" stroke="#9b3fb8" stroke-width="0.95"/>
<path d="M65.09 572.78V579.96M63.59 572.78h3M63.59 579.96h3" stroke="#9b3fb8" stroke-width="0.95" fill="none"/>
<circle cx="65.09" cy="576.37" r="1.85" fill="#fff" stroke="#9b3fb8" stroke-width="0.95"/>
<path d="M82.72 561.88V575.05M81.22 561.88h3M81.22 575.05h3" stroke="#9b3fb8" stroke-width="0.95" fill="none"/>
<circle cx="82.72" cy="568.47" r="1.85" fill="#fff" stroke="#9b3fb8" stroke-width="0.95"/>
<path d="M99.98 555.41V562.6M98.48 555.41h3M98.48 562.6h3" stroke="#9b3fb8" stroke-width="0.95" fill="none"/>
<circle cx="99.98" cy="559.01" r="1.85" fill="#fff" stroke="#9b3fb8" stroke-width="0.95"/>
<path d="M117.61 521.28V547.63M116.11 521.28h3M116.11 547.63h3" stroke="#9b3fb8" stroke-width="0.95" fill="none"/>
<circle cx="117.61" cy="534.46" r="1.85" fill="#fff" stroke="#9b3fb8" stroke-width="0.95"/>
<path d="M135.24 506.44V537.57M133.74 506.44h3M133.74 537.57h3" stroke="#9b3fb8" stroke-width="0.95" fill="none"/>
<circle cx="135.24" cy="522" r="1.85" fill="#fff" stroke="#9b3fb8" stroke-width="0.95"/>
<path d="M152.5 490.03V516.37M151 490.03h3M151 516.37h3" stroke="#9b3fb8" stroke-width="0.95" fill="none"/>
<circle cx="152.5" cy="503.2" r="1.85" fill="#fff" stroke="#9b3fb8" stroke-width="0.95"/>
<path d="M170.13 471.71V501.65M168.63 471.71h3M168.63 501.65h3" stroke="#9b3fb8" stroke-width="0.95" fill="none"/>
<circle cx="170.13" cy="486.68" r="1.85" fill="#fff" stroke="#9b3fb8" stroke-width="0.95"/>
<path d="M187.76 463.09V489.43M186.26 463.09h3M186.26 489.43h3" stroke="#9b3fb8" stroke-width="0.95" fill="none"/>
<circle cx="187.76" cy="476.26" r="1.85" fill="#fff" stroke="#9b3fb8" stroke-width="0.95"/>
<circle cx="205.39" cy="460.81" r="1.85" fill="#fff" stroke="#9b3fb8" stroke-width="0.95"/>
<path d="M47.46 582.71 L49.43 582.65 L51.4 582.58 L53.38 582.52 L55.35 582.45 L57.33 582.38 L59.3 582.31 L61.28 582.24 L63.25 582.17 L65.22 582.1 L67.2 582.03 L69.17 581.96 L71.15 581.88 L73.12 581.81 L75.09 581.73 L77.07 581.65 L79.04 581.56 L81.02 581.47 L82.99 581.36 L84.97 581.25 L86.94 581.13 L88.91 581.01 L90.89 580.87 L92.86 580.71 L94.84 580.53 L96.81 580.33 L98.79 580.11 L100.76 579.85 L102.73 579.51 L104.71 579.08 L106.68 578.57 L108.66 577.98 L110.63 577.32 L112.61 576.61 L114.58 575.84 L116.55 575.02 L118.53 574.15 L120.5 573.11 L122.48 571.89 L124.45 570.52 L126.43 569.03 L128.4 567.45 L130.37 565.79 L132.35 564.08 L134.32 562.36 L136.3 560.6 L138.27 558.71 L140.24 556.71 L142.22 554.62 L144.19 552.45 L146.17 550.23 L148.14 547.97 L150.12 545.7 L152.09 543.43 L154.06 541.17 L156.04 538.89 L158.01 536.59 L159.99 534.25 L161.96 531.88 L163.94 529.46 L165.91 526.99 L167.88 524.47 L169.86 521.89 L171.83 519.21 L173.81 516.38 L175.78 513.45 L177.76 510.45 L179.73 507.43 L181.7 504.43 L183.68 501.49 L185.65 498.65 L187.63 495.96 L189.6 493.38 L191.57 490.86 L193.55 488.38 L195.52 485.96 L197.5 483.59 L199.47 481.28 L201.45 479.02 L203.42 476.83 L205.39 474.7" fill="none" stroke="#4aa8f0" stroke-width="1.1"/>
<path d="M47.46 576.25V582.96M45.96 576.25h3M45.96 582.96h3" stroke="#2a9db0" stroke-width="0.95" fill="none"/>
<path d="M47.46 577.8l1.8 2.9h-3.6z" fill="#fff" stroke="#2a9db0" stroke-width="0.95"/>
<path d="M65.09 578.64V587.75M63.59 578.64h3M63.59 587.75h3" stroke="#2a9db0" stroke-width="0.95" fill="none"/>
<path d="M65.09 581.39l1.8 2.9h-3.6z" fill="#fff" stroke="#2a9db0" stroke-width="0.95"/>
<path d="M82.72 579l1.8 2.9h-3.6z" fill="#fff" stroke="#2a9db0" stroke-width="0.95"/>
<path d="M99.98 574.81V591.58M98.48 574.81h3M98.48 591.58h3" stroke="#2a9db0" stroke-width="0.95" fill="none"/>
<path d="M99.98 581.39l1.8 2.9h-3.6z" fill="#fff" stroke="#2a9db0" stroke-width="0.95"/>
<path d="M117.61 574.81l1.8 2.9h-3.6z" fill="#fff" stroke="#2a9db0" stroke-width="0.95"/>
<path d="M135.24 558.05V566.43M133.74 558.05h3M133.74 566.43h3" stroke="#2a9db0" stroke-width="0.95" fill="none"/>
<path d="M135.24 560.44l1.8 2.9h-3.6z" fill="#fff" stroke="#2a9db0" stroke-width="0.95"/>
<path d="M152.5 533.5V544.28M151 533.5h3M151 544.28h3" stroke="#2a9db0" stroke-width="0.95" fill="none"/>
<path d="M152.5 537.09l1.8 2.9h-3.6z" fill="#fff" stroke="#2a9db0" stroke-width="0.95"/>
<path d="M170.13 521.52V534.7M168.63 521.52h3M168.63 534.7h3" stroke="#2a9db0" stroke-width="0.95" fill="none"/>
<path d="M170.13 526.31l1.8 2.9h-3.6z" fill="#fff" stroke="#2a9db0" stroke-width="0.95"/>
<path d="M187.76 489.79V499.37M186.26 489.79h3M186.26 499.37h3" stroke="#2a9db0" stroke-width="0.95" fill="none"/>
<path d="M187.76 492.78l1.8 2.9h-3.6z" fill="#fff" stroke="#2a9db0" stroke-width="0.95"/>
<path d="M205.39 468.23V485M203.89 468.23h3M203.89 485h3" stroke="#2a9db0" stroke-width="0.95" fill="none"/>
<path d="M205.39 474.82l1.8 2.9h-3.6z" fill="#fff" stroke="#2a9db0" stroke-width="0.95"/>
<path d="M42.9 440.8h7.4" stroke="#bb5ad8" stroke-width="1.1"/><circle cx="46.4" cy="440.8" r="1.6" fill="#fff" stroke="#9b3fb8" stroke-width="0.8"/><text x="53.7" y="443.6" font-size="8" fill="#222">Acetylcholine (EC<tspan font-size="5" dy="2">50</tspan><tspan dy="-2"> 0.68 µM)</tspan></text>
<path d="M42.9 451.8h7.4" stroke="#4aa8f0" stroke-width="1.1"/><path d="M46.4 450.2l1.6 2.6h-3.2z" fill="#fff" stroke="#2a9db0" stroke-width="0.8"/><text x="53.7" y="454.6" font-size="8" fill="#222">Muscarine (EC<tspan font-size="5" dy="2">50</tspan><tspan dy="-2"> 6.6 µM)</tspan></text>
<text x="43.7" y="527.6" font-size="9.6" fill="#222">Ca<tspan font-size="6" dy="-3.6">2+</tspan></text>
<text x="226" y="417.8" font-size="16" font-weight="bold">e</text>
<text x="260.3" y="428.8" font-size="9.5" font-weight="bold">CHO <tspan font-style="italic">Ir</tspan>-mAChR-B/G<tspan font-size="6" dy="2">α15(16)</tspan></text>
<path d="M260.3 437.84V593.52H442.6" fill="none" stroke="#3a3a3a" stroke-width="1.2"/>
<path d="M260.3 593.52h-1.2" stroke="#333" stroke-width="0.8"/>
<path d="M260.3 582.4h-2" stroke="#333" stroke-width="0.8"/>
<text x="257.3" y="585.3" font-size="8" text-anchor="end" fill="#222">0</text>
<path d="M260.3 571.28h-1.2" stroke="#333" stroke-width="0.8"/>
<path d="M260.3 560.16h-2" stroke="#333" stroke-width="0.8"/>
<text x="257.3" y="563.06" font-size="8" text-anchor="end" fill="#222">20</text>
<path d="M260.3 549.04h-1.2" stroke="#333" stroke-width="0.8"/>
<path d="M260.3 537.92h-2" stroke="#333" stroke-width="0.8"/>
<text x="257.3" y="540.82" font-size="8" text-anchor="end" fill="#222">40</text>
<path d="M260.3 526.8h-1.2" stroke="#333" stroke-width="0.8"/>
<path d="M260.3 515.68h-2" stroke="#333" stroke-width="0.8"/>
<text x="257.3" y="518.58" font-size="8" text-anchor="end" fill="#222">60</text>
<path d="M260.3 504.56h-1.2" stroke="#333" stroke-width="0.8"/>
<path d="M260.3 493.44h-2" stroke="#333" stroke-width="0.8"/>
<text x="257.3" y="496.34" font-size="8" text-anchor="end" fill="#222">80</text>
<path d="M260.3 482.32h-1.2" stroke="#333" stroke-width="0.8"/>
<path d="M260.3 471.2h-2" stroke="#333" stroke-width="0.8"/>
<text x="257.3" y="474.1" font-size="8" text-anchor="end" fill="#222">100</text>
<path d="M260.3 460.08h-1.2" stroke="#333" stroke-width="0.8"/>
<path d="M260.3 448.96h-2" stroke="#333" stroke-width="0.8"/>
<text x="257.3" y="451.86" font-size="8" text-anchor="end" fill="#222">120</text>
<path d="M260.3 437.84h-1.2" stroke="#333" stroke-width="0.8"/>
<path d="M260.3 593.52v2.2" stroke="#333" stroke-width="0.9"/>
<text x="260.3" y="604.12" font-size="8" text-anchor="middle" fill="#222">0</text>
<path d="M271.28 593.52v1.3" stroke="#444" stroke-width="0.7"/>
<path d="M277.7 593.52v1.3" stroke="#444" stroke-width="0.7"/>
<path d="M282.25 593.52v1.3" stroke="#444" stroke-width="0.7"/>
<path d="M285.78 593.52v1.3" stroke="#444" stroke-width="0.7"/>
<path d="M288.67 593.52v1.3" stroke="#444" stroke-width="0.7"/>
<path d="M291.11 593.52v1.3" stroke="#444" stroke-width="0.7"/>
<path d="M293.23 593.52v1.3" stroke="#444" stroke-width="0.7"/>
<path d="M295.09 593.52v1.3" stroke="#444" stroke-width="0.7"/>
<path d="M296.76 593.52v2.2" stroke="#333" stroke-width="0.9"/>
<text x="296.76" y="604.12" font-size="8" text-anchor="middle" fill="#222">1</text>
<path d="M307.74 593.52v1.3" stroke="#444" stroke-width="0.7"/>
<path d="M314.16 593.52v1.3" stroke="#444" stroke-width="0.7"/>
<path d="M318.71 593.52v1.3" stroke="#444" stroke-width="0.7"/>
<path d="M322.24 593.52v1.3" stroke="#444" stroke-width="0.7"/>
<path d="M325.13 593.52v1.3" stroke="#444" stroke-width="0.7"/>
<path d="M327.57 593.52v1.3" stroke="#444" stroke-width="0.7"/>
<path d="M329.69 593.52v1.3" stroke="#444" stroke-width="0.7"/>
<path d="M331.55 593.52v1.3" stroke="#444" stroke-width="0.7"/>
<path d="M333.22 593.52v2.2" stroke="#333" stroke-width="0.9"/>
<text x="333.22" y="604.12" font-size="8" text-anchor="middle" fill="#222">2</text>
<path d="M344.2 593.52v1.3" stroke="#444" stroke-width="0.7"/>
<path d="M350.62 593.52v1.3" stroke="#444" stroke-width="0.7"/>
<path d="M355.17 593.52v1.3" stroke="#444" stroke-width="0.7"/>
<path d="M358.7 593.52v1.3" stroke="#444" stroke-width="0.7"/>
<path d="M361.59 593.52v1.3" stroke="#444" stroke-width="0.7"/>
<path d="M364.03 593.52v1.3" stroke="#444" stroke-width="0.7"/>
<path d="M366.15 593.52v1.3" stroke="#444" stroke-width="0.7"/>
<path d="M368.01 593.52v1.3" stroke="#444" stroke-width="0.7"/>
<path d="M369.68 593.52v2.2" stroke="#333" stroke-width="0.9"/>
<text x="369.68" y="604.12" font-size="8" text-anchor="middle" fill="#222">3</text>
<path d="M380.66 593.52v1.3" stroke="#444" stroke-width="0.7"/>
<path d="M387.08 593.52v1.3" stroke="#444" stroke-width="0.7"/>
<path d="M391.63 593.52v1.3" stroke="#444" stroke-width="0.7"/>
<path d="M395.16 593.52v1.3" stroke="#444" stroke-width="0.7"/>
<path d="M398.05 593.52v1.3" stroke="#444" stroke-width="0.7"/>
<path d="M400.49 593.52v1.3" stroke="#444" stroke-width="0.7"/>
<path d="M402.61 593.52v1.3" stroke="#444" stroke-width="0.7"/>
<path d="M404.47 593.52v1.3" stroke="#444" stroke-width="0.7"/>
<path d="M406.14 593.52v2.2" stroke="#333" stroke-width="0.9"/>
<text x="406.14" y="604.12" font-size="8" text-anchor="middle" fill="#222">4</text>
<path d="M417.12 593.52v1.3" stroke="#444" stroke-width="0.7"/>
<path d="M423.54 593.52v1.3" stroke="#444" stroke-width="0.7"/>
<path d="M428.09 593.52v1.3" stroke="#444" stroke-width="0.7"/>
<path d="M431.62 593.52v1.3" stroke="#444" stroke-width="0.7"/>
<path d="M434.51 593.52v1.3" stroke="#444" stroke-width="0.7"/>
<path d="M436.95 593.52v1.3" stroke="#444" stroke-width="0.7"/>
<path d="M439.07 593.52v1.3" stroke="#444" stroke-width="0.7"/>
<path d="M440.93 593.52v1.3" stroke="#444" stroke-width="0.7"/>
<path d="M442.6 593.52v2.2" stroke="#333" stroke-width="0.9"/>
<text x="442.6" y="604.12" font-size="8" text-anchor="middle" fill="#222">5</text>
<path d="M260.3 582.4H439.6" stroke="#9a9a9a" stroke-width="0.9" stroke-dasharray="2.4 1.6"/>
<text x="351.45" y="616.72" font-size="8" text-anchor="middle" fill="#222">Log [nM agonist]</text>
<text transform="translate(240.9 521.68) rotate(-90)" font-size="8" text-anchor="middle" fill="#222">Relative luminescence (%)</text>
<path d="M273.06 582.07 L275.02 581.83 L276.98 581.55 L278.94 581.25 L280.9 580.91 L282.86 580.52 L284.82 580.1 L286.78 579.62 L288.74 579.09 L290.7 578.5 L292.66 577.84 L294.62 577.11 L296.58 576.3 L298.54 575.4 L300.5 574.41 L302.46 573.32 L304.42 572.11 L306.38 570.79 L308.34 569.34 L310.3 567.77 L312.26 566.05 L314.22 564.18 L316.17 562.17 L318.13 560 L320.09 557.68 L322.05 555.21 L324.01 552.58 L325.97 549.81 L327.93 546.91 L329.89 543.87 L331.85 540.73 L333.81 537.49 L335.77 534.17 L337.73 530.8 L339.69 527.4 L341.65 523.98 L343.61 520.58 L345.57 517.22 L347.53 513.91 L349.49 510.69 L351.45 507.56 L353.41 504.54 L355.37 501.66 L357.33 498.91 L359.29 496.31 L361.25 493.86 L363.21 491.57 L365.17 489.42 L367.13 487.44 L369.09 485.6 L371.05 483.9 L373.01 482.34 L374.97 480.92 L376.93 479.62 L378.89 478.43 L380.85 477.35 L382.81 476.38 L384.77 475.5 L386.73 474.7 L388.68 473.98 L390.64 473.33 L392.6 472.75 L394.56 472.23 L396.52 471.76 L398.48 471.34 L400.44 470.97 L402.4 470.63 L404.36 470.33 L406.32 470.06 L408.28 469.82 L410.24 469.61 L412.2 469.42 L414.16 469.25 L416.12 469.1 L418.08 468.96 L420.04 468.84 L422 468.73 L423.96 468.64 L425.92 468.55 L427.88 468.48 L429.84 468.41" fill="none" stroke="#bb5ad8" stroke-width="1.1"/>
<path d="M273.06 574.62V583.51M271.56 574.62h3M271.56 583.51h3" stroke="#9b3fb8" stroke-width="0.95" fill="none"/>
<circle cx="273.06" cy="579.06" r="1.85" fill="#fff" stroke="#9b3fb8" stroke-width="0.95"/>
<path d="M290.56 576.84V581.29M289.06 576.84h3M289.06 581.29h3" stroke="#9b3fb8" stroke-width="0.95" fill="none"/>
<circle cx="290.56" cy="579.06" r="1.85" fill="#fff" stroke="#9b3fb8" stroke-width="0.95"/>
<path d="M308.06 566.83V571.28M306.56 566.83h3M306.56 571.28h3" stroke="#9b3fb8" stroke-width="0.95" fill="none"/>
<circle cx="308.06" cy="569.06" r="1.85" fill="#fff" stroke="#9b3fb8" stroke-width="0.95"/>
<path d="M325.2 540.14V553.49M323.7 540.14h3M323.7 553.49h3" stroke="#9b3fb8" stroke-width="0.95" fill="none"/>
<circle cx="325.2" cy="546.82" r="1.85" fill="#fff" stroke="#9b3fb8" stroke-width="0.95"/>
<path d="M342.7 504.56V533.47M341.2 504.56h3M341.2 533.47h3" stroke="#9b3fb8" stroke-width="0.95" fill="none"/>
<circle cx="342.7" cy="519.02" r="1.85" fill="#fff" stroke="#9b3fb8" stroke-width="0.95"/>
<path d="M360.2 485.66V512.34M358.7 485.66h3M358.7 512.34h3" stroke="#9b3fb8" stroke-width="0.95" fill="none"/>
<circle cx="360.2" cy="499" r="1.85" fill="#fff" stroke="#9b3fb8" stroke-width="0.95"/>
<path d="M377.34 472.87V494M375.84 472.87h3M375.84 494h3" stroke="#9b3fb8" stroke-width="0.95" fill="none"/>
<circle cx="377.34" cy="483.43" r="1.85" fill="#fff" stroke="#9b3fb8" stroke-width="0.95"/>
<path d="M394.84 459.52V490.66M393.34 459.52h3M393.34 490.66h3" stroke="#9b3fb8" stroke-width="0.95" fill="none"/>
<circle cx="394.84" cy="475.09" r="1.85" fill="#fff" stroke="#9b3fb8" stroke-width="0.95"/>
<path d="M412.34 453.96V476.2M410.84 453.96h3M410.84 476.2h3" stroke="#9b3fb8" stroke-width="0.95" fill="none"/>
<circle cx="412.34" cy="465.08" r="1.85" fill="#fff" stroke="#9b3fb8" stroke-width="0.95"/>
<circle cx="429.84" cy="471.2" r="1.85" fill="#fff" stroke="#9b3fb8" stroke-width="0.95"/>
<path d="M273.06 582.34 L275.02 582.33 L276.98 582.32 L278.94 582.31 L280.9 582.29 L282.86 582.28 L284.82 582.26 L286.78 582.24 L288.74 582.22 L290.7 582.19 L292.66 582.16 L294.62 582.12 L296.58 582.08 L298.54 582.04 L300.5 581.98 L302.46 581.92 L304.42 581.86 L306.38 581.78 L308.34 581.69 L310.3 581.58 L312.26 581.46 L314.22 581.33 L316.17 581.18 L318.13 581 L320.09 580.8 L322.05 580.57 L324.01 580.31 L325.97 580.01 L327.93 579.67 L329.89 579.28 L331.85 578.84 L333.81 578.33 L335.77 577.77 L337.73 577.12 L339.69 576.39 L341.65 575.57 L343.61 574.64 L345.57 573.59 L347.53 572.42 L349.49 571.11 L351.45 569.65 L353.41 568.02 L355.37 566.22 L357.33 564.23 L359.29 562.05 L361.25 559.67 L363.21 557.09 L365.17 554.31 L367.13 551.32 L369.09 548.14 L371.05 544.79 L373.01 541.27 L374.97 537.62 L376.93 533.86 L378.89 530.02 L380.85 526.13 L382.81 522.23 L384.77 518.36 L386.73 514.56 L388.68 510.84 L390.64 507.26 L392.6 503.82 L394.56 500.54 L396.52 497.46 L398.48 494.57 L400.44 491.89 L402.4 489.4 L404.36 487.12 L406.32 485.04 L408.28 483.14 L410.24 481.43 L412.2 479.88 L414.16 478.5 L416.12 477.25 L418.08 476.15 L420.04 475.16 L422 474.28 L423.96 473.51 L425.92 472.82 L427.88 472.21 L429.84 471.68" fill="none" stroke="#4aa8f0" stroke-width="1.1"/>
<path d="M273.06 577.4V587.4M271.56 577.4h3M271.56 587.4h3" stroke="#2a9db0" stroke-width="0.95" fill="none"/>
<path d="M273.06 580.6l1.8 2.9h-3.6z" fill="#fff" stroke="#2a9db0" stroke-width="0.95"/>
<path d="M290.56 579.49l1.8 2.9h-3.6z" fill="#fff" stroke="#2a9db0" stroke-width="0.95"/>
<path d="M308.06 577.4V584.07M306.56 577.4h3M306.56 584.07h3" stroke="#2a9db0" stroke-width="0.95" fill="none"/>
<path d="M308.06 578.93l1.8 2.9h-3.6z" fill="#fff" stroke="#2a9db0" stroke-width="0.95"/>
<path d="M325.2 577.82l1.8 2.9h-3.6z" fill="#fff" stroke="#2a9db0" stroke-width="0.95"/>
<path d="M342.7 574.62V579.06M341.2 574.62h3M341.2 579.06h3" stroke="#2a9db0" stroke-width="0.95" fill="none"/>
<path d="M342.7 575.04l1.8 2.9h-3.6z" fill="#fff" stroke="#2a9db0" stroke-width="0.95"/>
<path d="M360.2 554.6V565.72M358.7 554.6h3M358.7 565.72h3" stroke="#2a9db0" stroke-width="0.95" fill="none"/>
<path d="M360.2 558.36l1.8 2.9h-3.6z" fill="#fff" stroke="#2a9db0" stroke-width="0.95"/>
<path d="M377.34 521.24V536.81M375.84 521.24h3M375.84 536.81h3" stroke="#2a9db0" stroke-width="0.95" fill="none"/>
<path d="M377.34 527.22l1.8 2.9h-3.6z" fill="#fff" stroke="#2a9db0" stroke-width="0.95"/>
<path d="M394.84 481.76V521.8M393.34 481.76h3M393.34 521.8h3" stroke="#2a9db0" stroke-width="0.95" fill="none"/>
<path d="M394.84 499.98l1.8 2.9h-3.6z" fill="#fff" stroke="#2a9db0" stroke-width="0.95"/>
<path d="M412.34 458.97V507.9M410.84 458.97h3M410.84 507.9h3" stroke="#2a9db0" stroke-width="0.95" fill="none"/>
<path d="M412.34 481.63l1.8 2.9h-3.6z" fill="#fff" stroke="#2a9db0" stroke-width="0.95"/>
<path d="M429.84 445.62V496.78M428.34 445.62h3M428.34 496.78h3" stroke="#2a9db0" stroke-width="0.95" fill="none"/>
<path d="M429.84 469.4l1.8 2.9h-3.6z" fill="#fff" stroke="#2a9db0" stroke-width="0.95"/>
<path d="M268.4 442.1h7.4" stroke="#bb5ad8" stroke-width="1.1"/><circle cx="271.9" cy="442.1" r="1.6" fill="#fff" stroke="#9b3fb8" stroke-width="0.8"/><text x="281.5" y="444.9" font-size="8" fill="#222">Acetylcholine (EC<tspan font-size="5" dy="2">50</tspan><tspan dy="-2"> 0.15 µM)</tspan></text>
<path d="M268.4 453.2h7.4" stroke="#4aa8f0" stroke-width="1.1"/><path d="M271.9 451.6l1.6 2.6h-3.2z" fill="#fff" stroke="#2a9db0" stroke-width="0.8"/><text x="281.5" y="456" font-size="8" fill="#222">Muscarine (EC<tspan font-size="5" dy="2">50</tspan><tspan dy="-2"> 2.1 µM)</tspan></text>
<text x="270.3" y="527.6" font-size="9.6" fill="#222">Ca<tspan font-size="6" dy="-3.6">2+</tspan></text>
<text x="455.6" y="417.6" font-size="16" font-weight="bold">f</text>
<text x="485" y="426.3" font-size="9.5" font-weight="bold">HEK <tspan font-style="italic">Ir</tspan>-mAChR-B</text>
<path d="M486 436.8V592.9H667.6" fill="none" stroke="#3a3a3a" stroke-width="1.2"/>
<path d="M486 592.9h-2" stroke="#333" stroke-width="0.8"/>
<path d="M486 581.75h-1.2" stroke="#333" stroke-width="0.8"/>
<path d="M486 570.6h-2" stroke="#333" stroke-width="0.8"/>
<text x="483" y="573.5" font-size="8" text-anchor="end" fill="#222">0</text>
<path d="M486 559.45h-1.2" stroke="#333" stroke-width="0.8"/>
<path d="M486 548.3h-2" stroke="#333" stroke-width="0.8"/>
<text x="483" y="551.2" font-size="8" text-anchor="end" fill="#222">20</text>
<path d="M486 537.15h-1.2" stroke="#333" stroke-width="0.8"/>
<path d="M486 526h-2" stroke="#333" stroke-width="0.8"/>
<text x="483" y="528.9" font-size="8" text-anchor="end" fill="#222">40</text>
<path d="M486 514.85h-1.2" stroke="#333" stroke-width="0.8"/>
<path d="M486 503.7h-2" stroke="#333" stroke-width="0.8"/>
<text x="483" y="506.6" font-size="8" text-anchor="end" fill="#222">60</text>
<path d="M486 492.55h-1.2" stroke="#333" stroke-width="0.8"/>
<path d="M486 481.4h-2" stroke="#333" stroke-width="0.8"/>
<text x="483" y="484.3" font-size="8" text-anchor="end" fill="#222">80</text>
<path d="M486 470.25h-1.2" stroke="#333" stroke-width="0.8"/>
<path d="M486 459.1h-2" stroke="#333" stroke-width="0.8"/>
<text x="483" y="462" font-size="8" text-anchor="end" fill="#222">100</text>
<path d="M486 447.95h-1.2" stroke="#333" stroke-width="0.8"/>
<path d="M486 436.8h-2" stroke="#333" stroke-width="0.8"/>
<text x="483" y="439.7" font-size="8" text-anchor="end" fill="#222">120</text>
<path d="M486 592.9v2.2" stroke="#333" stroke-width="0.9"/>
<text x="486" y="603.5" font-size="8" text-anchor="middle" fill="#222">0</text>
<path d="M492.83 592.9v1.3" stroke="#444" stroke-width="0.7"/>
<path d="M496.83 592.9v1.3" stroke="#444" stroke-width="0.7"/>
<path d="M499.67 592.9v1.3" stroke="#444" stroke-width="0.7"/>
<path d="M501.87 592.9v1.3" stroke="#444" stroke-width="0.7"/>
<path d="M503.66 592.9v1.3" stroke="#444" stroke-width="0.7"/>
<path d="M505.18 592.9v1.3" stroke="#444" stroke-width="0.7"/>
<path d="M506.5 592.9v1.3" stroke="#444" stroke-width="0.7"/>
<path d="M507.66 592.9v1.3" stroke="#444" stroke-width="0.7"/>
<path d="M508.7 592.9v2.2" stroke="#333" stroke-width="0.9"/>
<text x="508.7" y="603.5" font-size="8" text-anchor="middle" fill="#222">1</text>
<path d="M515.53 592.9v1.3" stroke="#444" stroke-width="0.7"/>
<path d="M519.53 592.9v1.3" stroke="#444" stroke-width="0.7"/>
<path d="M522.37 592.9v1.3" stroke="#444" stroke-width="0.7"/>
<path d="M524.57 592.9v1.3" stroke="#444" stroke-width="0.7"/>
<path d="M526.36 592.9v1.3" stroke="#444" stroke-width="0.7"/>
<path d="M527.88 592.9v1.3" stroke="#444" stroke-width="0.7"/>
<path d="M529.2 592.9v1.3" stroke="#444" stroke-width="0.7"/>
<path d="M530.36 592.9v1.3" stroke="#444" stroke-width="0.7"/>
<path d="M531.4 592.9v2.2" stroke="#333" stroke-width="0.9"/>
<text x="531.4" y="603.5" font-size="8" text-anchor="middle" fill="#222">2</text>
<path d="M538.23 592.9v1.3" stroke="#444" stroke-width="0.7"/>
<path d="M542.23 592.9v1.3" stroke="#444" stroke-width="0.7"/>
<path d="M545.07 592.9v1.3" stroke="#444" stroke-width="0.7"/>
<path d="M547.27 592.9v1.3" stroke="#444" stroke-width="0.7"/>
<path d="M549.06 592.9v1.3" stroke="#444" stroke-width="0.7"/>
<path d="M550.58 592.9v1.3" stroke="#444" stroke-width="0.7"/>
<path d="M551.9 592.9v1.3" stroke="#444" stroke-width="0.7"/>
<path d="M553.06 592.9v1.3" stroke="#444" stroke-width="0.7"/>
<path d="M554.1 592.9v2.2" stroke="#333" stroke-width="0.9"/>
<text x="554.1" y="603.5" font-size="8" text-anchor="middle" fill="#222">3</text>
<path d="M560.93 592.9v1.3" stroke="#444" stroke-width="0.7"/>
<path d="M564.93 592.9v1.3" stroke="#444" stroke-width="0.7"/>
<path d="M567.77 592.9v1.3" stroke="#444" stroke-width="0.7"/>
<path d="M569.97 592.9v1.3" stroke="#444" stroke-width="0.7"/>
<path d="M571.76 592.9v1.3" stroke="#444" stroke-width="0.7"/>
<path d="M573.28 592.9v1.3" stroke="#444" stroke-width="0.7"/>
<path d="M574.6 592.9v1.3" stroke="#444" stroke-width="0.7"/>
<path d="M575.76 592.9v1.3" stroke="#444" stroke-width="0.7"/>
<path d="M576.8 592.9v2.2" stroke="#333" stroke-width="0.9"/>
<text x="576.8" y="603.5" font-size="8" text-anchor="middle" fill="#222">4</text>
<path d="M583.63 592.9v1.3" stroke="#444" stroke-width="0.7"/>
<path d="M587.63 592.9v1.3" stroke="#444" stroke-width="0.7"/>
<path d="M590.47 592.9v1.3" stroke="#444" stroke-width="0.7"/>
<path d="M592.67 592.9v1.3" stroke="#444" stroke-width="0.7"/>
<path d="M594.46 592.9v1.3" stroke="#444" stroke-width="0.7"/>
<path d="M595.98 592.9v1.3" stroke="#444" stroke-width="0.7"/>
<path d="M597.3 592.9v1.3" stroke="#444" stroke-width="0.7"/>
<path d="M598.46 592.9v1.3" stroke="#444" stroke-width="0.7"/>
<path d="M599.5 592.9v2.2" stroke="#333" stroke-width="0.9"/>
<text x="599.5" y="603.5" font-size="8" text-anchor="middle" fill="#222">5</text>
<path d="M606.33 592.9v1.3" stroke="#444" stroke-width="0.7"/>
<path d="M610.33 592.9v1.3" stroke="#444" stroke-width="0.7"/>
<path d="M613.17 592.9v1.3" stroke="#444" stroke-width="0.7"/>
<path d="M615.37 592.9v1.3" stroke="#444" stroke-width="0.7"/>
<path d="M617.16 592.9v1.3" stroke="#444" stroke-width="0.7"/>
<path d="M618.68 592.9v1.3" stroke="#444" stroke-width="0.7"/>
<path d="M620 592.9v1.3" stroke="#444" stroke-width="0.7"/>
<path d="M621.16 592.9v1.3" stroke="#444" stroke-width="0.7"/>
<path d="M622.2 592.9v2.2" stroke="#333" stroke-width="0.9"/>
<text x="622.2" y="603.5" font-size="8" text-anchor="middle" fill="#222">6</text>
<path d="M629.03 592.9v1.3" stroke="#444" stroke-width="0.7"/>
<path d="M633.03 592.9v1.3" stroke="#444" stroke-width="0.7"/>
<path d="M635.87 592.9v1.3" stroke="#444" stroke-width="0.7"/>
<path d="M638.07 592.9v1.3" stroke="#444" stroke-width="0.7"/>
<path d="M639.86 592.9v1.3" stroke="#444" stroke-width="0.7"/>
<path d="M641.38 592.9v1.3" stroke="#444" stroke-width="0.7"/>
<path d="M642.7 592.9v1.3" stroke="#444" stroke-width="0.7"/>
<path d="M643.86 592.9v1.3" stroke="#444" stroke-width="0.7"/>
<path d="M644.9 592.9v2.2" stroke="#333" stroke-width="0.9"/>
<text x="644.9" y="603.5" font-size="8" text-anchor="middle" fill="#222">7</text>
<path d="M651.73 592.9v1.3" stroke="#444" stroke-width="0.7"/>
<path d="M655.73 592.9v1.3" stroke="#444" stroke-width="0.7"/>
<path d="M658.57 592.9v1.3" stroke="#444" stroke-width="0.7"/>
<path d="M660.77 592.9v1.3" stroke="#444" stroke-width="0.7"/>
<path d="M662.56 592.9v1.3" stroke="#444" stroke-width="0.7"/>
<path d="M664.08 592.9v1.3" stroke="#444" stroke-width="0.7"/>
<path d="M665.4 592.9v1.3" stroke="#444" stroke-width="0.7"/>
<path d="M666.56 592.9v1.3" stroke="#444" stroke-width="0.7"/>
<path d="M667.6 592.9v2.2" stroke="#333" stroke-width="0.9"/>
<text x="667.6" y="603.5" font-size="8" text-anchor="middle" fill="#222">8</text>
<path d="M486 570.6H664.6" stroke="#9a9a9a" stroke-width="0.9" stroke-dasharray="2.4 1.6"/>
<text x="576.8" y="616.1" font-size="8" text-anchor="middle" fill="#222">Log [nM acetylcholine]</text>
<text transform="translate(466.6 520.85) rotate(-90)" font-size="8" text-anchor="middle" fill="#222">Relative luminescence (%)</text>
<path d="M504.84 574.61 L506.74 574.45 L508.64 574.22 L510.54 573.95 L512.43 573.63 L514.33 573.28 L516.23 572.91 L518.13 572.47 L520.03 571.97 L521.93 571.39 L523.82 570.75 L525.72 570.04 L527.62 569.25 L529.52 568.3 L531.42 567.21 L533.32 566 L535.21 564.7 L537.11 563.33 L539.01 561.82 L540.91 560.15 L542.81 558.33 L544.71 556.39 L546.6 554.35 L548.5 552.24 L550.4 550.02 L552.3 547.67 L554.2 545.19 L556.09 542.59 L557.99 539.84 L559.89 536.97 L561.79 533.83 L563.69 530.39 L565.59 526.77 L567.48 523.09 L569.38 519.46 L571.28 515.97 L573.18 512.44 L575.08 508.88 L576.98 505.38 L578.87 502.05 L580.77 498.98 L582.67 496.19 L584.57 493.5 L586.47 490.96 L588.37 488.6 L590.26 486.47 L592.16 484.61 L594.06 482.94 L595.96 481.39 L597.86 479.97 L599.76 478.7 L601.65 477.58 L603.55 476.63 L605.45 475.75 L607.35 474.93 L609.25 474.2 L611.15 473.6 L613.04 473.14 L614.94 472.81 L616.84 472.53 L618.74 472.28 L620.64 472.07 L622.53 471.9 L624.43 471.76 L626.33 471.67 L628.23 471.59 L630.13 471.52 L632.03 471.46 L633.92 471.42 L635.82 471.38 L637.72 471.34 L639.62 471.31 L641.52 471.28 L643.42 471.25 L645.31 471.23 L647.21 471.2 L649.11 471.18 L651.01 471.17 L652.91 471.15 L654.81 471.14 L656.7 471.14" fill="none" stroke="#bb5ad8" stroke-width="1.1"/>
<circle cx="504.84" cy="575.06" r="1.85" fill="#fff" stroke="#9b3fb8" stroke-width="0.95"/>
<path d="M515.68 566.14V581.75M514.18 566.14h3M514.18 581.75h3" stroke="#9b3fb8" stroke-width="0.95" fill="none"/>
<circle cx="515.68" cy="573.95" r="1.85" fill="#fff" stroke="#9b3fb8" stroke-width="0.95"/>
<path d="M526.52 547.19V578.4M525.02 547.19h3M525.02 578.4h3" stroke="#9b3fb8" stroke-width="0.95" fill="none"/>
<circle cx="526.52" cy="562.8" r="1.85" fill="#fff" stroke="#9b3fb8" stroke-width="0.95"/>
<path d="M537.36 562.8V571.72M535.86 562.8h3M535.86 571.72h3" stroke="#9b3fb8" stroke-width="0.95" fill="none"/>
<circle cx="537.36" cy="567.25" r="1.85" fill="#fff" stroke="#9b3fb8" stroke-width="0.95"/>
<path d="M548.2 538.26V558.34M546.7 538.26h3M546.7 558.34h3" stroke="#9b3fb8" stroke-width="0.95" fill="none"/>
<circle cx="548.2" cy="548.3" r="1.85" fill="#fff" stroke="#9b3fb8" stroke-width="0.95"/>
<path d="M559.04 530.46V541.61M557.54 530.46h3M557.54 541.61h3" stroke="#9b3fb8" stroke-width="0.95" fill="none"/>
<circle cx="559.04" cy="536.04" r="1.85" fill="#fff" stroke="#9b3fb8" stroke-width="0.95"/>
<path d="M569.88 492.55V514.85M568.38 492.55h3M568.38 514.85h3" stroke="#9b3fb8" stroke-width="0.95" fill="none"/>
<circle cx="569.88" cy="503.7" r="1.85" fill="#fff" stroke="#9b3fb8" stroke-width="0.95"/>
<path d="M580.72 485.86V519.31M579.22 485.86h3M579.22 519.31h3" stroke="#9b3fb8" stroke-width="0.95" fill="none"/>
<circle cx="580.72" cy="502.59" r="1.85" fill="#fff" stroke="#9b3fb8" stroke-width="0.95"/>
<path d="M591.55 486.42V496.45M590.05 486.42h3M590.05 496.45h3" stroke="#9b3fb8" stroke-width="0.95" fill="none"/>
<circle cx="591.55" cy="491.44" r="1.85" fill="#fff" stroke="#9b3fb8" stroke-width="0.95"/>
<path d="M602.39 455.75V495.9M600.89 455.75h3M600.89 495.9h3" stroke="#9b3fb8" stroke-width="0.95" fill="none"/>
<circle cx="602.39" cy="475.83" r="1.85" fill="#fff" stroke="#9b3fb8" stroke-width="0.95"/>
<path d="M613.23 451.3V489.21M611.73 451.3h3M611.73 489.21h3" stroke="#9b3fb8" stroke-width="0.95" fill="none"/>
<circle cx="613.23" cy="470.25" r="1.85" fill="#fff" stroke="#9b3fb8" stroke-width="0.95"/>
<path d="M624.07 445.72V490.32M622.57 445.72h3M622.57 490.32h3" stroke="#9b3fb8" stroke-width="0.95" fill="none"/>
<circle cx="624.07" cy="468.02" r="1.85" fill="#fff" stroke="#9b3fb8" stroke-width="0.95"/>
<path d="M634.91 451.3V486.98M633.41 451.3h3M633.41 486.98h3" stroke="#9b3fb8" stroke-width="0.95" fill="none"/>
<circle cx="634.91" cy="469.13" r="1.85" fill="#fff" stroke="#9b3fb8" stroke-width="0.95"/>
<path d="M645.75 485.86V497.01M644.25 485.86h3M644.25 497.01h3" stroke="#9b3fb8" stroke-width="0.95" fill="none"/>
<circle cx="645.75" cy="491.44" r="1.85" fill="#fff" stroke="#9b3fb8" stroke-width="0.95"/>
<circle cx="656.59" cy="459.1" r="1.85" fill="#fff" stroke="#9b3fb8" stroke-width="0.95"/>
<path d="M494.5 440.1h7.4" stroke="#bb5ad8" stroke-width="1.1"/><circle cx="498" cy="440.1" r="1.6" fill="#fff" stroke="#9b3fb8" stroke-width="0.8"/><text x="506.9" y="442.9" font-size="8" fill="#222">Acetylcholine (EC<tspan font-size="5" dy="2">50</tspan><tspan dy="-2"> 2.7 µM)</tspan></text>
<text x="494.6" y="528.2" font-size="9.6" fill="#222">cAMP</text>
<text x="0.1" y="638.3" font-size="16" font-weight="bold">g</text>
<text x="168.3" y="651" font-size="9.5" font-weight="bold" text-anchor="middle"><tspan font-style="italic">Ir</tspan>-mAChR-A</text>
<text x="276.9" y="651" font-size="9.5" font-weight="bold" text-anchor="middle"><tspan font-style="italic">Ir</tspan>-mAChR-B</text>
<rect x="25.3" y="654" width="306" height="11.2" fill="#e3e3e3"/>
<text transform="translate(27.1 662.8) scale(0.87 1)" font-size="7.9" font-weight="bold" fill="#111">Agonist</text>
<text x="140.45" y="662.9" font-size="7.9" font-weight="bold" text-anchor="middle" fill="#111">0.5 µM</text>
<text x="195.1" y="662.9" font-size="7.9" font-weight="bold" text-anchor="middle" fill="#111">5 µM</text>
<text x="249.75" y="662.9" font-size="7.9" font-weight="bold" text-anchor="middle" fill="#111">0.5 µM</text>
<text x="304.1" y="662.9" font-size="7.9" font-weight="bold" text-anchor="middle" fill="#111">5 µM</text>
<rect x="113.3" y="665.2" width="54.3" height="10.87" fill="#7fc67d"/>
<text transform="translate(140.45 673.93) scale(0.93 1)" font-size="9.2" text-anchor="middle" fill="#111">100.0</text>
<rect x="167.6" y="665.2" width="55" height="10.87" fill="#7fc67d"/>
<text transform="translate(195.1 673.93) scale(0.93 1)" font-size="9.2" text-anchor="middle" fill="#111">100.0</text>
<rect x="222.6" y="665.2" width="54.3" height="10.87" fill="#7fc67d"/>
<text transform="translate(249.75 673.93) scale(0.93 1)" font-size="9.2" text-anchor="middle" fill="#111">100.0</text>
<rect x="276.9" y="665.2" width="54.4" height="10.87" fill="#7fc67d"/>
<text transform="translate(304.1 673.93) scale(0.93 1)" font-size="9.2" text-anchor="middle" fill="#111">100.0</text>
<text transform="translate(27.1 674.03) scale(0.86 1)" font-size="7.7" fill="#111">Acetylcholine</text>
<rect x="113.3" y="676.07" width="54.3" height="10.87" fill="#63be7b"/>
<text transform="translate(140.45 684.8) scale(0.93 1)" font-size="9.2" text-anchor="middle" fill="#111">111.1</text>
<rect x="167.6" y="676.07" width="55" height="10.87" fill="#96cd7e"/>
<text transform="translate(195.1 684.8) scale(0.93 1)" font-size="9.2" text-anchor="middle" fill="#111">91.0</text>
<rect x="222.6" y="676.07" width="54.3" height="10.87" fill="#f9776e"/>
<text transform="translate(249.75 684.8) scale(0.93 1)" font-size="9.2" text-anchor="middle" fill="#111">1.2</text>
<rect x="276.9" y="676.07" width="54.4" height="10.87" fill="#f86e6c"/>
<text transform="translate(304.1 684.8) scale(0.93 1)" font-size="9.2" text-anchor="middle" fill="#111">-2.8</text>
<text transform="translate(27.1 684.9) scale(0.86 1)" font-size="7.7" fill="#111">Oxotremorine M</text>
<rect x="113.3" y="686.94" width="54.3" height="10.87" fill="#a9d27f"/>
<text transform="translate(140.45 695.67) scale(0.93 1)" font-size="9.2" text-anchor="middle" fill="#111">83.8</text>
<rect x="167.6" y="686.94" width="55" height="10.87" fill="#9fcf7e"/>
<text transform="translate(195.1 695.67) scale(0.93 1)" font-size="9.2" text-anchor="middle" fill="#111">87.5</text>
<rect x="222.6" y="686.94" width="54.3" height="10.87" fill="#f9766e"/>
<text transform="translate(249.75 695.67) scale(0.93 1)" font-size="9.2" text-anchor="middle" fill="#111">0.9</text>
<rect x="276.9" y="686.94" width="54.4" height="10.87" fill="#f9736d"/>
<text transform="translate(304.1 695.67) scale(0.93 1)" font-size="9.2" text-anchor="middle" fill="#111">-0.7</text>
<text transform="translate(27.1 695.77) scale(0.86 1)" font-size="7.7" fill="#111">Methacholine</text>
<rect x="113.3" y="697.81" width="54.3" height="10.87" fill="#b2d580"/>
<text transform="translate(140.45 706.54) scale(0.93 1)" font-size="9.2" text-anchor="middle" fill="#111">80.3</text>
<rect x="167.6" y="697.81" width="55" height="10.87" fill="#a7d27f"/>
<text transform="translate(195.1 706.54) scale(0.93 1)" font-size="9.2" text-anchor="middle" fill="#111">84.6</text>
<rect x="222.6" y="697.81" width="54.3" height="10.87" fill="#fdcd7e"/>
<text transform="translate(249.75 706.54) scale(0.93 1)" font-size="9.2" text-anchor="middle" fill="#111">37.4</text>
<rect x="276.9" y="697.81" width="54.4" height="10.87" fill="#a4d17f"/>
<text transform="translate(304.1 706.54) scale(0.93 1)" font-size="9.2" text-anchor="middle" fill="#111">85.5</text>
<text transform="translate(27.1 706.64) scale(0.86 1)" font-size="7.7" fill="#111">Muscarine</text>
<rect x="113.3" y="708.68" width="54.3" height="10.87" fill="#b6d680"/>
<text transform="translate(140.45 717.41) scale(0.93 1)" font-size="9.2" text-anchor="middle" fill="#111">78.4</text>
<rect x="167.6" y="708.68" width="55" height="10.87" fill="#a7d27f"/>
<text transform="translate(195.1 717.41) scale(0.93 1)" font-size="9.2" text-anchor="middle" fill="#111">84.6</text>
<rect x="222.6" y="708.68" width="54.3" height="10.87" fill="#fba176"/>
<text transform="translate(249.75 717.41) scale(0.93 1)" font-size="9.2" text-anchor="middle" fill="#111">18.7</text>
<rect x="276.9" y="708.68" width="54.4" height="10.87" fill="#d6df82"/>
<text transform="translate(304.1 717.41) scale(0.93 1)" font-size="9.2" text-anchor="middle" fill="#111">66.0</text>
<text transform="translate(27.1 717.51) scale(0.86 1)" font-size="7.7" fill="#111">Arecoline</text>
<rect x="113.3" y="719.55" width="54.3" height="10.87" fill="#e1e282"/>
<text transform="translate(140.45 728.28) scale(0.93 1)" font-size="9.2" text-anchor="middle" fill="#111">61.8</text>
<rect x="167.6" y="719.55" width="55" height="10.87" fill="#b2d580"/>
<text transform="translate(195.1 728.28) scale(0.93 1)" font-size="9.2" text-anchor="middle" fill="#111">80.0</text>
<rect x="222.6" y="719.55" width="54.3" height="10.87" fill="#f97c6f"/>
<text transform="translate(249.75 728.28) scale(0.93 1)" font-size="9.2" text-anchor="middle" fill="#111">3.3</text>
<rect x="276.9" y="719.55" width="54.4" height="10.87" fill="#fcbc7b"/>
<text transform="translate(304.1 728.28) scale(0.93 1)" font-size="9.2" text-anchor="middle" fill="#111">30.1</text>
<text transform="translate(27.1 728.38) scale(0.86 1)" font-size="7.7" fill="#111">Carbachol</text>
<rect x="113.3" y="730.42" width="54.3" height="10.87" fill="#ede683"/>
<text transform="translate(140.45 739.15) scale(0.93 1)" font-size="9.2" text-anchor="middle" fill="#111">57.2</text>
<rect x="167.6" y="730.42" width="55" height="10.87" fill="#bfd980"/>
<text transform="translate(195.1 739.15) scale(0.93 1)" font-size="9.2" text-anchor="middle" fill="#111">74.9</text>
<rect x="222.6" y="730.42" width="54.3" height="10.87" fill="#f98170"/>
<text transform="translate(249.75 739.15) scale(0.93 1)" font-size="9.2" text-anchor="middle" fill="#111">5.6</text>
<rect x="276.9" y="730.42" width="54.4" height="10.87" fill="#fed780"/>
<text transform="translate(304.1 739.15) scale(0.93 1)" font-size="9.2" text-anchor="middle" fill="#111">41.7</text>
<text transform="translate(27.1 739.25) scale(0.86 1)" font-size="7.7" fill="#111">Aceclidine</text>
<rect x="113.3" y="741.29" width="54.3" height="10.87" fill="#fed580"/>
<text transform="translate(140.45 750.02) scale(0.93 1)" font-size="9.2" text-anchor="middle" fill="#111">40.7</text>
<rect x="167.6" y="741.29" width="55" height="10.87" fill="#d5df82"/>
<text transform="translate(195.1 750.02) scale(0.93 1)" font-size="9.2" text-anchor="middle" fill="#111">66.5</text>
<rect x="222.6" y="741.29" width="54.3" height="10.87" fill="#f86d6c"/>
<text transform="translate(249.75 750.02) scale(0.93 1)" font-size="9.2" text-anchor="middle" fill="#111">-2.9</text>
<rect x="276.9" y="741.29" width="54.4" height="10.87" fill="#f97a6e"/>
<text transform="translate(304.1 750.02) scale(0.93 1)" font-size="9.2" text-anchor="middle" fill="#111">2.6</text>
<text transform="translate(27.1 750.12) scale(0.86 1)" font-size="7.7" fill="#111">Pilocarpine</text>
<rect x="113.3" y="752.16" width="54.3" height="10.87" fill="#fdc87d"/>
<text transform="translate(140.45 760.89) scale(0.93 1)" font-size="9.2" text-anchor="middle" fill="#111">35.4</text>
<rect x="167.6" y="752.16" width="55" height="10.87" fill="#dee182"/>
<text transform="translate(195.1 760.89) scale(0.93 1)" font-size="9.2" text-anchor="middle" fill="#111">63.1</text>
<rect x="222.6" y="752.16" width="54.3" height="10.87" fill="#f9746d"/>
<text transform="translate(249.75 760.89) scale(0.93 1)" font-size="9.2" text-anchor="middle" fill="#111">0.1</text>
<rect x="276.9" y="752.16" width="54.4" height="10.87" fill="#f86b6b"/>
<text transform="translate(304.1 760.89) scale(0.93 1)" font-size="9.2" text-anchor="middle" fill="#111">-4.0</text>
<text transform="translate(27.1 761) scale(0.86 1)" font-size="7.7" fill="#111">Bethanechol</text>
<rect x="113.3" y="763.03" width="54.3" height="10.87" fill="#fdc37c"/>
<text transform="translate(140.45 771.76) scale(0.93 1)" font-size="9.2" text-anchor="middle" fill="#111">33.0</text>
<rect x="167.6" y="763.03" width="55" height="10.87" fill="#f0e783"/>
<text transform="translate(195.1 771.76) scale(0.93 1)" font-size="9.2" text-anchor="middle" fill="#111">55.8</text>
<rect x="222.6" y="763.03" width="54.3" height="10.87" fill="#fcbc7b"/>
<text transform="translate(249.75 771.76) scale(0.93 1)" font-size="9.2" text-anchor="middle" fill="#111">30.3</text>
<rect x="276.9" y="763.03" width="54.4" height="10.87" fill="#fedf82"/>
<text transform="translate(304.1 771.76) scale(0.93 1)" font-size="9.2" text-anchor="middle" fill="#111">45.1</text>
<text transform="translate(27.1 771.87) scale(0.86 1)" font-size="7.7" fill="#111">Cevimeline</text>
<rect x="113.3" y="773.9" width="54.3" height="10.87" fill="#f9756d"/>
<text transform="translate(140.45 782.63) scale(0.93 1)" font-size="9.2" text-anchor="middle" fill="#111">0.3</text>
<rect x="167.6" y="773.9" width="55" height="10.87" fill="#fcbc7b"/>
<text transform="translate(195.1 782.63) scale(0.93 1)" font-size="9.2" text-anchor="middle" fill="#111">30.4</text>
<rect x="222.6" y="773.9" width="54.3" height="10.87" fill="#f97e6f"/>
<text transform="translate(249.75 782.63) scale(0.93 1)" font-size="9.2" text-anchor="middle" fill="#111">4.1</text>
<rect x="276.9" y="773.9" width="54.4" height="10.87" fill="#f86e6c"/>
<text transform="translate(304.1 782.63) scale(0.93 1)" font-size="9.2" text-anchor="middle" fill="#111">-2.7</text>
<text transform="translate(27.1 782.74) scale(0.86 1)" font-size="7.7" fill="#111">McN-A-343</text>
<rect x="113.3" y="784.77" width="54.3" height="10.87" fill="#f86e6c"/>
<text transform="translate(140.45 793.5) scale(0.93 1)" font-size="9.2" text-anchor="middle" fill="#111">-2.8</text>
<rect x="167.6" y="784.77" width="55" height="10.87" fill="#f97d6f"/>
<text transform="translate(195.1 793.5) scale(0.93 1)" font-size="9.2" text-anchor="middle" fill="#111">3.8</text>
<rect x="222.6" y="784.77" width="54.3" height="10.87" fill="#f9796e"/>
<text transform="translate(249.75 793.5) scale(0.93 1)" font-size="9.2" text-anchor="middle" fill="#111">1.9</text>
<rect x="276.9" y="784.77" width="54.4" height="10.87" fill="#f8696b"/>
<text transform="translate(304.1 793.5) scale(0.93 1)" font-size="9.2" text-anchor="middle" fill="#111">-4.7</text>
<text transform="translate(27.1 793.6) scale(0.86 1)" font-size="7.7" fill="#111">N-Desmethylclozapine</text>
<rect x="113.3" y="795.64" width="54.3" height="10.87" fill="#f9786e"/>
<text transform="translate(140.45 804.38) scale(0.93 1)" font-size="9.2" text-anchor="middle" fill="#111">1.7</text>
<rect x="167.6" y="795.64" width="55" height="10.87" fill="#f9746d"/>
<text transform="translate(195.1 804.38) scale(0.93 1)" font-size="9.2" text-anchor="middle" fill="#111">0.1</text>
<rect x="222.6" y="795.64" width="54.3" height="10.87" fill="#f9766d"/>
<text transform="translate(249.75 804.38) scale(0.93 1)" font-size="9.2" text-anchor="middle" fill="#111">0.7</text>
<rect x="276.9" y="795.64" width="54.4" height="10.87" fill="#f86b6b"/>
<text transform="translate(304.1 804.38) scale(0.93 1)" font-size="9.2" text-anchor="middle" fill="#111">-3.7</text>
<text transform="translate(27.1 804.48) scale(0.86 1)" font-size="7.7" fill="#111">VU0357017</text>
<rect x="113.3" y="806.51" width="54.3" height="10.87" fill="#fa9072"/>
<text transform="translate(140.45 815.24) scale(0.93 1)" font-size="9.2" text-anchor="middle" fill="#111">11.5</text>
<rect x="167.6" y="806.51" width="55" height="10.87" fill="#f8726d"/>
<text transform="translate(195.1 815.24) scale(0.93 1)" font-size="9.2" text-anchor="middle" fill="#111">-0.9</text>
<rect x="222.6" y="806.51" width="54.3" height="10.87" fill="#f9786e"/>
<text transform="translate(249.75 815.24) scale(0.93 1)" font-size="9.2" text-anchor="middle" fill="#111">1.7</text>
<rect x="276.9" y="806.51" width="54.4" height="10.87" fill="#f8696b"/>
<text transform="translate(304.1 815.24) scale(0.93 1)" font-size="9.2" text-anchor="middle" fill="#111">-4.6</text>
<text transform="translate(27.1 815.34) scale(0.86 1)" font-size="7.7" fill="#111">BQCA</text>
<rect x="113.3" y="817.38" width="54.3" height="10.87" fill="#f86c6c"/>
<text transform="translate(140.45 826.11) scale(0.93 1)" font-size="9.2" text-anchor="middle" fill="#111">-3.5</text>
<rect x="167.6" y="817.38" width="55" height="10.87" fill="#f8716d"/>
<text transform="translate(195.1 826.11) scale(0.93 1)" font-size="9.2" text-anchor="middle" fill="#111">-1.4</text>
<rect x="222.6" y="817.38" width="54.3" height="10.87" fill="#f9796e"/>
<text transform="translate(249.75 826.11) scale(0.93 1)" font-size="9.2" text-anchor="middle" fill="#111">1.9</text>
<rect x="276.9" y="817.38" width="54.4" height="10.87" fill="#f86a6b"/>
<text transform="translate(304.1 826.11) scale(0.93 1)" font-size="9.2" text-anchor="middle" fill="#111">-4.3</text>
<text transform="translate(27.1 826.21) scale(0.86 1)" font-size="7.7" fill="#111">tert-Butyl peroxybenzoate</text>
<rect x="113.3" y="828.25" width="54.3" height="10.87" fill="#f86e6c"/>
<text transform="translate(140.45 836.98) scale(0.93 1)" font-size="9.2" text-anchor="middle" fill="#111">-2.5</text>
<rect x="167.6" y="828.25" width="55" height="10.87" fill="#f8706c"/>
<text transform="translate(195.1 836.98) scale(0.93 1)" font-size="9.2" text-anchor="middle" fill="#111">-1.7</text>
<rect x="222.6" y="828.25" width="54.3" height="10.87" fill="#f9786e"/>
<text transform="translate(249.75 836.98) scale(0.93 1)" font-size="9.2" text-anchor="middle" fill="#111">1.5</text>
<rect x="276.9" y="828.25" width="54.4" height="10.87" fill="#f8716d"/>
<text transform="translate(304.1 836.98) scale(0.93 1)" font-size="9.2" text-anchor="middle" fill="#111">-1.4</text>
<text transform="translate(27.1 837.08) scale(0.86 1)" font-size="7.7" fill="#111">Benztropine mesylate</text>
<rect x="113.3" y="839.12" width="54.3" height="10.87" fill="#f8706c"/>
<text transform="translate(140.45 847.85) scale(0.93 1)" font-size="9.2" text-anchor="middle" fill="#111">-1.8</text>
<rect x="167.6" y="839.12" width="55" height="10.87" fill="#f86f6c"/>
<text transform="translate(195.1 847.85) scale(0.93 1)" font-size="9.2" text-anchor="middle" fill="#111">-2.3</text>
<rect x="222.6" y="839.12" width="54.3" height="10.87" fill="#f9766e"/>
<text transform="translate(249.75 847.85) scale(0.93 1)" font-size="9.2" text-anchor="middle" fill="#111">0.9</text>
<rect x="276.9" y="839.12" width="54.4" height="10.87" fill="#f8696b"/>
<text transform="translate(304.1 847.85) scale(0.93 1)" font-size="9.2" text-anchor="middle" fill="#111">-4.5</text>
<text transform="translate(27.1 847.95) scale(0.86 1)" font-size="7.7" fill="#111">Metoclopramide</text>
<path d="M25.3 654H331.3M25.3 665.2H331.3M25.3 676.07H331.3M25.3 686.94H331.3M25.3 697.81H331.3M25.3 708.68H331.3M25.3 719.55H331.3M25.3 730.42H331.3M25.3 741.29H331.3M25.3 752.16H331.3M25.3 763.03H331.3M25.3 773.9H331.3M25.3 784.77H331.3M25.3 795.64H331.3M25.3 806.51H331.3M25.3 817.38H331.3M25.3 828.25H331.3M25.3 839.12H331.3M25.3 849.99H331.3M25.3 654V849.99M113.3 654V849.99M167.6 654V849.99M222.6 654V849.99M276.9 654V849.99M331.3 654V849.99" stroke="#5a5a5a" stroke-width="0.7" fill="none"/>
<text x="342.6" y="639.6" font-size="16" font-weight="bold">h</text>
<text x="513.5" y="640.6" font-size="9.5" font-weight="bold" text-anchor="middle"><tspan font-style="italic">Ir</tspan>-mAChR-A</text>
<text x="621.6" y="640.6" font-size="9.5" font-weight="bold" text-anchor="middle"><tspan font-style="italic">Ir</tspan>-mAChR-B</text>
<rect x="459.6" y="644.8" width="216" height="10.4" fill="#c0c0c0" stroke="#5a5a5a" stroke-width="0.6"/>
<path d="M567.7 644.8V655.2" stroke="#5a5a5a" stroke-width="0.6"/>
<text x="513.6" y="652.9" font-size="8.4" text-anchor="middle" fill="#222">Acetylcholine 3 µM</text>
<text x="621.6" y="652.9" font-size="8.4" text-anchor="middle" fill="#222">Acetylcholine 3 µM</text>
<rect x="372.2" y="655.2" width="303.4" height="10.3" fill="#e3e3e3"/>
<text transform="translate(374 663.55) scale(0.87 1)" font-size="7.9" font-weight="bold" fill="#111">Antagonist pretreatment</text>
<text x="486.55" y="663.65" font-size="7.9" font-weight="bold" text-anchor="middle" fill="#111">5 µM</text>
<text x="540.6" y="663.65" font-size="7.9" font-weight="bold" text-anchor="middle" fill="#111">50 µM</text>
<text x="594.6" y="663.65" font-size="7.9" font-weight="bold" text-anchor="middle" fill="#111">5 µM</text>
<text x="648.55" y="663.65" font-size="7.9" font-weight="bold" text-anchor="middle" fill="#111">50 µM</text>
<rect x="459.6" y="665.5" width="53.9" height="11.19" fill="#63be7b"/>
<text transform="translate(486.55 674.39) scale(0.93 1)" font-size="9.2" text-anchor="middle" fill="#111">-14.7</text>
<rect x="513.5" y="665.5" width="54.2" height="11.19" fill="#63be7b"/>
<text transform="translate(540.6 674.39) scale(0.93 1)" font-size="9.2" text-anchor="middle" fill="#111">-14.7</text>
<rect x="567.7" y="665.5" width="53.8" height="11.19" fill="#f8696b"/>
<text transform="translate(594.6 674.39) scale(0.93 1)" font-size="9.2" text-anchor="middle" fill="#111">121.5</text>
<rect x="621.5" y="665.5" width="54.1" height="11.19" fill="#f8696b"/>
<text transform="translate(648.55 674.39) scale(0.93 1)" font-size="9.2" text-anchor="middle" fill="#111">101.8</text>
<text transform="translate(374 674.5) scale(0.86 1)" font-size="7.7" fill="#111">Propantheline</text>
<rect x="459.6" y="676.69" width="53.9" height="11.19" fill="#fede81"/>
<text transform="translate(486.55 685.59) scale(0.93 1)" font-size="9.2" text-anchor="middle" fill="#111">55.1</text>
<rect x="513.5" y="676.69" width="54.2" height="11.19" fill="#63be7b"/>
<text transform="translate(540.6 685.59) scale(0.93 1)" font-size="9.2" text-anchor="middle" fill="#111">-11.9</text>
<rect x="567.7" y="676.69" width="53.8" height="11.19" fill="#f8696b"/>
<text transform="translate(594.6 685.59) scale(0.93 1)" font-size="9.2" text-anchor="middle" fill="#111">114.2</text>
<rect x="621.5" y="676.69" width="54.1" height="11.19" fill="#f8696b"/>
<text transform="translate(648.55 685.59) scale(0.93 1)" font-size="9.2" text-anchor="middle" fill="#111">111.4</text>
<text transform="translate(374 685.69) scale(0.86 1)" font-size="7.7" fill="#111">(–)-Scopolamine</text>
<rect x="459.6" y="687.88" width="53.9" height="11.19" fill="#fcb57a"/>
<text transform="translate(486.55 696.77) scale(0.93 1)" font-size="9.2" text-anchor="middle" fill="#111">70.7</text>
<rect x="513.5" y="687.88" width="54.2" height="11.19" fill="#63be7b"/>
<text transform="translate(540.6 696.77) scale(0.93 1)" font-size="9.2" text-anchor="middle" fill="#111">-11.3</text>
<rect x="567.7" y="687.88" width="53.8" height="11.19" fill="#f8696b"/>
<text transform="translate(594.6 696.77) scale(0.93 1)" font-size="9.2" text-anchor="middle" fill="#111">121.7</text>
<rect x="621.5" y="687.88" width="54.1" height="11.19" fill="#f8696b"/>
<text transform="translate(648.55 696.77) scale(0.93 1)" font-size="9.2" text-anchor="middle" fill="#111">111.9</text>
<text transform="translate(374 696.88) scale(0.86 1)" font-size="7.7" fill="#111">Glycopyrrolate</text>
<rect x="459.6" y="699.07" width="53.9" height="11.19" fill="#fcb179"/>
<text transform="translate(486.55 707.97) scale(0.93 1)" font-size="9.2" text-anchor="middle" fill="#111">72.4</text>
<rect x="513.5" y="699.07" width="54.2" height="11.19" fill="#63be7b"/>
<text transform="translate(540.6 707.97) scale(0.93 1)" font-size="9.2" text-anchor="middle" fill="#111">-8.9</text>
<rect x="567.7" y="699.07" width="53.8" height="11.19" fill="#f8696b"/>
<text transform="translate(594.6 707.97) scale(0.93 1)" font-size="9.2" text-anchor="middle" fill="#111">132.0</text>
<rect x="621.5" y="699.07" width="54.1" height="11.19" fill="#f9806f"/>
<text transform="translate(648.55 707.97) scale(0.93 1)" font-size="9.2" text-anchor="middle" fill="#111">91.1</text>
<text transform="translate(374 708.07) scale(0.86 1)" font-size="7.7" fill="#111">Tolterodine L-tartrate</text>
<rect x="459.6" y="710.26" width="53.9" height="11.19" fill="#f97b6f"/>
<text transform="translate(486.55 719.15) scale(0.93 1)" font-size="9.2" text-anchor="middle" fill="#111">92.9</text>
<rect x="513.5" y="710.26" width="54.2" height="11.19" fill="#63be7b"/>
<text transform="translate(540.6 719.15) scale(0.93 1)" font-size="9.2" text-anchor="middle" fill="#111">-8.6</text>
<rect x="567.7" y="710.26" width="53.8" height="11.19" fill="#f8696b"/>
<text transform="translate(594.6 719.15) scale(0.93 1)" font-size="9.2" text-anchor="middle" fill="#111">107.9</text>
<rect x="621.5" y="710.26" width="54.1" height="11.19" fill="#fed17f"/>
<text transform="translate(648.55 719.15) scale(0.93 1)" font-size="9.2" text-anchor="middle" fill="#111">60.0</text>
<text transform="translate(374 719.25) scale(0.86 1)" font-size="7.7" fill="#111">Olanzapine</text>
<rect x="459.6" y="721.45" width="53.9" height="11.19" fill="#f8696b"/>
<text transform="translate(486.55 730.35) scale(0.93 1)" font-size="9.2" text-anchor="middle" fill="#111">135.6</text>
<rect x="513.5" y="721.45" width="54.2" height="11.19" fill="#63be7b"/>
<text transform="translate(540.6 730.35) scale(0.93 1)" font-size="9.2" text-anchor="middle" fill="#111">-5.3</text>
<rect x="567.7" y="721.45" width="53.8" height="11.19" fill="#f8696b"/>
<text transform="translate(594.6 730.35) scale(0.93 1)" font-size="9.2" text-anchor="middle" fill="#111">114.9</text>
<rect x="621.5" y="721.45" width="54.1" height="11.19" fill="#f8696b"/>
<text transform="translate(648.55 730.35) scale(0.93 1)" font-size="9.2" text-anchor="middle" fill="#111">244.2</text>
<text transform="translate(374 730.45) scale(0.86 1)" font-size="7.7" fill="#111">Chlorpromazine</text>
<rect x="459.6" y="732.64" width="53.9" height="11.19" fill="#fa9273"/>
<text transform="translate(486.55 741.53) scale(0.93 1)" font-size="9.2" text-anchor="middle" fill="#111">84.1</text>
<rect x="513.5" y="732.64" width="54.2" height="11.19" fill="#6ec17c"/>
<text transform="translate(540.6 741.53) scale(0.93 1)" font-size="9.2" text-anchor="middle" fill="#111">-1.1</text>
<rect x="567.7" y="732.64" width="53.8" height="11.19" fill="#f8696b"/>
<text transform="translate(594.6 741.53) scale(0.93 1)" font-size="9.2" text-anchor="middle" fill="#111">108.4</text>
<rect x="621.5" y="732.64" width="54.1" height="11.19" fill="#f8696b"/>
<text transform="translate(648.55 741.53) scale(0.93 1)" font-size="9.2" text-anchor="middle" fill="#111">103.0</text>
<text transform="translate(374 741.63) scale(0.86 1)" font-size="7.7" fill="#111">Telenzepine</text>
<rect x="459.6" y="743.83" width="53.9" height="11.19" fill="#f8696b"/>
<text transform="translate(486.55 752.73) scale(0.93 1)" font-size="9.2" text-anchor="middle" fill="#111">100.8</text>
<rect x="513.5" y="743.83" width="54.2" height="11.19" fill="#86c87d"/>
<text transform="translate(540.6 752.73) scale(0.93 1)" font-size="9.2" text-anchor="middle" fill="#111">7.3</text>
<rect x="567.7" y="743.83" width="53.8" height="11.19" fill="#f8696b"/>
<text transform="translate(594.6 752.73) scale(0.93 1)" font-size="9.2" text-anchor="middle" fill="#111">111.3</text>
<rect x="621.5" y="743.83" width="54.1" height="11.19" fill="#f8696b"/>
<text transform="translate(648.55 752.73) scale(0.93 1)" font-size="9.2" text-anchor="middle" fill="#111">107.6</text>
<text transform="translate(374 752.83) scale(0.86 1)" font-size="7.7" fill="#111">Atropine</text>
<rect x="459.6" y="755.02" width="53.9" height="11.19" fill="#f8696b"/>
<text transform="translate(486.55 763.91) scale(0.93 1)" font-size="9.2" text-anchor="middle" fill="#111">114.6</text>
<rect x="513.5" y="755.02" width="54.2" height="11.19" fill="#f1e783"/>
<text transform="translate(540.6 763.91) scale(0.93 1)" font-size="9.2" text-anchor="middle" fill="#111">45.1</text>
<rect x="567.7" y="755.02" width="53.8" height="11.19" fill="#f8696b"/>
<text transform="translate(594.6 763.91) scale(0.93 1)" font-size="9.2" text-anchor="middle" fill="#111">113.8</text>
<rect x="621.5" y="755.02" width="54.1" height="11.19" fill="#cadc81"/>
<text transform="translate(648.55 763.91) scale(0.93 1)" font-size="9.2" text-anchor="middle" fill="#111">31.3</text>
<text transform="translate(374 764.01) scale(0.86 1)" font-size="7.7" fill="#111">Haloperidol</text>
<rect x="459.6" y="766.21" width="53.9" height="11.19" fill="#f8696b"/>
<text transform="translate(486.55 775.11) scale(0.93 1)" font-size="9.2" text-anchor="middle" fill="#111">145.8</text>
<rect x="513.5" y="766.21" width="54.2" height="11.19" fill="#ffe984"/>
<text transform="translate(540.6 775.11) scale(0.93 1)" font-size="9.2" text-anchor="middle" fill="#111">50.8</text>
<rect x="567.7" y="766.21" width="53.8" height="11.19" fill="#f8696b"/>
<text transform="translate(594.6 775.11) scale(0.93 1)" font-size="9.2" text-anchor="middle" fill="#111">119.1</text>
<rect x="621.5" y="766.21" width="54.1" height="11.19" fill="#fbea84"/>
<text transform="translate(648.55 775.11) scale(0.93 1)" font-size="9.2" text-anchor="middle" fill="#111">48.6</text>
<text transform="translate(374 775.21) scale(0.86 1)" font-size="7.7" fill="#111">Dicyclomine</text>
<rect x="459.6" y="777.4" width="53.9" height="11.19" fill="#f8696b"/>
<text transform="translate(486.55 786.29) scale(0.93 1)" font-size="9.2" text-anchor="middle" fill="#111">107.2</text>
<rect x="513.5" y="777.4" width="54.2" height="11.19" fill="#fedc81"/>
<text transform="translate(540.6 786.29) scale(0.93 1)" font-size="9.2" text-anchor="middle" fill="#111">55.8</text>
<rect x="567.7" y="777.4" width="53.8" height="11.19" fill="#f8696b"/>
<text transform="translate(594.6 786.29) scale(0.93 1)" font-size="9.2" text-anchor="middle" fill="#111">104.9</text>
<rect x="621.5" y="777.4" width="54.1" height="11.19" fill="#8ac97d"/>
<text transform="translate(648.55 786.29) scale(0.93 1)" font-size="9.2" text-anchor="middle" fill="#111">8.8</text>
<text transform="translate(374 786.39) scale(0.86 1)" font-size="7.7" fill="#111">Propiverine</text>
<rect x="459.6" y="788.59" width="53.9" height="11.19" fill="#f8696b"/>
<text transform="translate(486.55 797.49) scale(0.93 1)" font-size="9.2" text-anchor="middle" fill="#111">152.8</text>
<rect x="513.5" y="788.59" width="54.2" height="11.19" fill="#fed37f"/>
<text transform="translate(540.6 797.49) scale(0.93 1)" font-size="9.2" text-anchor="middle" fill="#111">59.3</text>
<rect x="567.7" y="788.59" width="53.8" height="11.19" fill="#f8696b"/>
<text transform="translate(594.6 797.49) scale(0.93 1)" font-size="9.2" text-anchor="middle" fill="#111">122.1</text>
<rect x="621.5" y="788.59" width="54.1" height="11.19" fill="#ffeb84"/>
<text transform="translate(648.55 797.49) scale(0.93 1)" font-size="9.2" text-anchor="middle" fill="#111">50.0</text>
<text transform="translate(374 797.59) scale(0.86 1)" font-size="7.7" fill="#111">Solifenacin Succinate</text>
<rect x="459.6" y="799.78" width="53.9" height="11.19" fill="#f8696b"/>
<text transform="translate(486.55 808.67) scale(0.93 1)" font-size="9.2" text-anchor="middle" fill="#111">156.5</text>
<rect x="513.5" y="799.78" width="54.2" height="11.19" fill="#fcbb7b"/>
<text transform="translate(540.6 808.67) scale(0.93 1)" font-size="9.2" text-anchor="middle" fill="#111">68.6</text>
<rect x="567.7" y="799.78" width="53.8" height="11.19" fill="#f8696b"/>
<text transform="translate(594.6 808.67) scale(0.93 1)" font-size="9.2" text-anchor="middle" fill="#111">118.8</text>
<rect x="621.5" y="799.78" width="54.1" height="11.19" fill="#fbaa77"/>
<text transform="translate(648.55 808.67) scale(0.93 1)" font-size="9.2" text-anchor="middle" fill="#111">75.1</text>
<text transform="translate(374 808.77) scale(0.86 1)" font-size="7.7" fill="#111">Imipramine</text>
<rect x="459.6" y="810.97" width="53.9" height="11.19" fill="#f8696b"/>
<text transform="translate(486.55 819.87) scale(0.93 1)" font-size="9.2" text-anchor="middle" fill="#111">143.0</text>
<rect x="513.5" y="810.97" width="54.2" height="11.19" fill="#f97f6f"/>
<text transform="translate(540.6 819.87) scale(0.93 1)" font-size="9.2" text-anchor="middle" fill="#111">91.7</text>
<rect x="567.7" y="810.97" width="53.8" height="11.19" fill="#f8696b"/>
<text transform="translate(594.6 819.87) scale(0.93 1)" font-size="9.2" text-anchor="middle" fill="#111">124.5</text>
<rect x="621.5" y="810.97" width="54.1" height="11.19" fill="#f8696b"/>
<text transform="translate(648.55 819.87) scale(0.93 1)" font-size="9.2" text-anchor="middle" fill="#111">114.7</text>
<text transform="translate(374 819.97) scale(0.86 1)" font-size="7.7" fill="#111">4-DAMP</text>
<rect x="459.6" y="822.16" width="53.9" height="11.19" fill="#f8696b"/>
<text transform="translate(486.55 831.05) scale(0.93 1)" font-size="9.2" text-anchor="middle" fill="#111">161.7</text>
<rect x="513.5" y="822.16" width="54.2" height="11.19" fill="#f97e6f"/>
<text transform="translate(540.6 831.05) scale(0.93 1)" font-size="9.2" text-anchor="middle" fill="#111">91.8</text>
<rect x="567.7" y="822.16" width="53.8" height="11.19" fill="#f8696b"/>
<text transform="translate(594.6 831.05) scale(0.93 1)" font-size="9.2" text-anchor="middle" fill="#111">112.4</text>
<rect x="621.5" y="822.16" width="54.1" height="11.19" fill="#f8696b"/>
<text transform="translate(648.55 831.05) scale(0.93 1)" font-size="9.2" text-anchor="middle" fill="#111">107.2</text>
<text transform="translate(374 831.15) scale(0.86 1)" font-size="7.7" fill="#111">Tropicamide</text>
<rect x="459.6" y="833.35" width="53.9" height="11.19" fill="#f8696b"/>
<text transform="translate(486.55 842.25) scale(0.93 1)" font-size="9.2" text-anchor="middle" fill="#111">111.8</text>
<rect x="513.5" y="833.35" width="54.2" height="11.19" fill="#f8696b"/>
<text transform="translate(540.6 842.25) scale(0.93 1)" font-size="9.2" text-anchor="middle" fill="#111">102.9</text>
<rect x="567.7" y="833.35" width="53.8" height="11.19" fill="#f8696b"/>
<text transform="translate(594.6 842.25) scale(0.93 1)" font-size="9.2" text-anchor="middle" fill="#111">112.8</text>
<rect x="621.5" y="833.35" width="54.1" height="11.19" fill="#f8696b"/>
<text transform="translate(648.55 842.25) scale(0.93 1)" font-size="9.2" text-anchor="middle" fill="#111">106.6</text>
<text transform="translate(374 842.35) scale(0.86 1)" font-size="7.7" fill="#111">Hydralazine</text>
<rect x="459.6" y="844.54" width="53.9" height="11.19" fill="#f8696b"/>
<text transform="translate(486.55 853.43) scale(0.93 1)" font-size="9.2" text-anchor="middle" fill="#111">126.3</text>
<rect x="513.5" y="844.54" width="54.2" height="11.19" fill="#f8696b"/>
<text transform="translate(540.6 853.43) scale(0.93 1)" font-size="9.2" text-anchor="middle" fill="#111">104.5</text>
<rect x="567.7" y="844.54" width="53.8" height="11.19" fill="#f8696b"/>
<text transform="translate(594.6 853.43) scale(0.93 1)" font-size="9.2" text-anchor="middle" fill="#111">116.2</text>
<rect x="621.5" y="844.54" width="54.1" height="11.19" fill="#f8696b"/>
<text transform="translate(648.55 853.43) scale(0.93 1)" font-size="9.2" text-anchor="middle" fill="#111">111.5</text>
<text transform="translate(374 853.53) scale(0.86 1)" font-size="7.7" fill="#111">Gallamine</text>
<rect x="459.6" y="855.73" width="53.9" height="11.19" fill="#f8696b"/>
<text transform="translate(486.55 864.62) scale(0.93 1)" font-size="9.2" text-anchor="middle" fill="#111">145.5</text>
<rect x="513.5" y="855.73" width="54.2" height="11.19" fill="#f8696b"/>
<text transform="translate(540.6 864.62) scale(0.93 1)" font-size="9.2" text-anchor="middle" fill="#111">109.8</text>
<rect x="567.7" y="855.73" width="53.8" height="11.19" fill="#f8696b"/>
<text transform="translate(594.6 864.62) scale(0.93 1)" font-size="9.2" text-anchor="middle" fill="#111">116.9</text>
<rect x="621.5" y="855.73" width="54.1" height="11.19" fill="#f8696b"/>
<text transform="translate(648.55 864.62) scale(0.93 1)" font-size="9.2" text-anchor="middle" fill="#111">106.4</text>
<text transform="translate(374 864.73) scale(0.86 1)" font-size="7.7" fill="#111">Diphenhydramine</text>
<rect x="459.6" y="866.92" width="53.9" height="11.19" fill="#f8696b"/>
<text transform="translate(486.55 875.81) scale(0.93 1)" font-size="9.2" text-anchor="middle" fill="#111">131.1</text>
<rect x="513.5" y="866.92" width="54.2" height="11.19" fill="#f8696b"/>
<text transform="translate(540.6 875.81) scale(0.93 1)" font-size="9.2" text-anchor="middle" fill="#111">116.1</text>
<rect x="567.7" y="866.92" width="53.8" height="11.19" fill="#f8696b"/>
<text transform="translate(594.6 875.81) scale(0.93 1)" font-size="9.2" text-anchor="middle" fill="#111">118.8</text>
<rect x="621.5" y="866.92" width="54.1" height="11.19" fill="#f86d6c"/>
<text transform="translate(648.55 875.81) scale(0.93 1)" font-size="9.2" text-anchor="middle" fill="#111">98.4</text>
<text transform="translate(374 875.91) scale(0.86 1)" font-size="7.7" fill="#111">Hydroxyzine</text>
<rect x="459.6" y="878.11" width="53.9" height="11.19" fill="#f8696b"/>
<text transform="translate(486.55 887) scale(0.93 1)" font-size="9.2" text-anchor="middle" fill="#111">149.6</text>
<rect x="513.5" y="878.11" width="54.2" height="11.19" fill="#f8696b"/>
<text transform="translate(540.6 887) scale(0.93 1)" font-size="9.2" text-anchor="middle" fill="#111">117.6</text>
<rect x="567.7" y="878.11" width="53.8" height="11.19" fill="#f8696b"/>
<text transform="translate(594.6 887) scale(0.93 1)" font-size="9.2" text-anchor="middle" fill="#111">128.3</text>
<rect x="621.5" y="878.11" width="54.1" height="11.19" fill="#f8696b"/>
<text transform="translate(648.55 887) scale(0.93 1)" font-size="9.2" text-anchor="middle" fill="#111">100.1</text>
<text transform="translate(374 887.11) scale(0.86 1)" font-size="7.7" fill="#111">Dimenhydrinate</text>
<path d="M372.2 655.2H675.6M372.2 665.5H675.6M372.2 676.69H675.6M372.2 687.88H675.6M372.2 699.07H675.6M372.2 710.26H675.6M372.2 721.45H675.6M372.2 732.64H675.6M372.2 743.83H675.6M372.2 755.02H675.6M372.2 766.21H675.6M372.2 777.4H675.6M372.2 788.59H675.6M372.2 799.78H675.6M372.2 810.97H675.6M372.2 822.16H675.6M372.2 833.35H675.6M372.2 844.54H675.6M372.2 855.73H675.6M372.2 866.92H675.6M372.2 878.11H675.6M372.2 889.3H675.6M372.2 655.2V889.3M459.6 655.2V889.3M513.5 655.2V889.3M567.7 655.2V889.3M621.5 655.2V889.3M675.6 655.2V889.3" stroke="#5a5a5a" stroke-width="0.7" fill="none"/>
</svg></body></html>
